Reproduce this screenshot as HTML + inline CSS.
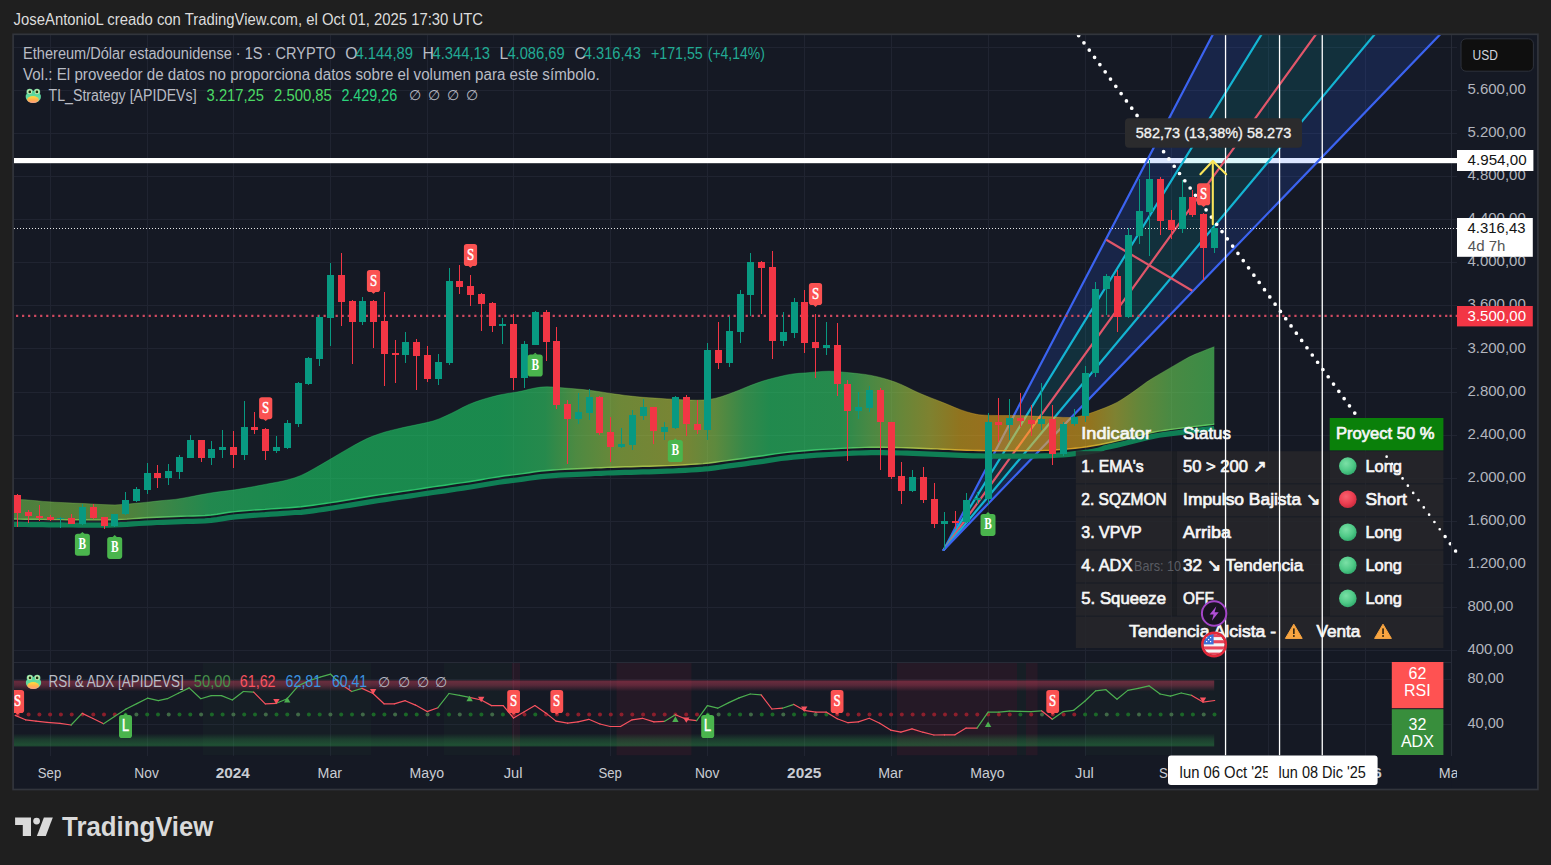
<!DOCTYPE html>
<html><head><meta charset="utf-8"><title>ETHUSD chart</title>
<style>
html,body{margin:0;padding:0;background:#1f1f1f;}
body{width:1551px;height:865px;overflow:hidden;font-family:"Liberation Sans", sans-serif;}
svg{display:block;font-family:"Liberation Sans", sans-serif;}
text{white-space:pre;}
.tb{stroke:#f6f6f6;stroke-width:0.7px;}
.sl{stroke:#ffffff;stroke-width:0.5px;}
</style></head><body>
<svg width="1551" height="865" viewBox="0 0 1551 865">
<defs>
<clipPath id="plot"><rect x="14" y="35" width="1437.5" height="720.5"/></clipPath>
<clipPath id="main"><rect x="14" y="35" width="1437.5" height="627"/></clipPath>
<clipPath id="rsi"><rect x="14" y="662" width="1437.5" height="93.5"/></clipPath>
<clipPath id="diag"><rect x="1451.0" y="35" width="6.5" height="627"/></clipPath>
<clipPath id="taxis"><rect x="14" y="755.5" width="1443" height="33.5"/></clipPath>
<linearGradient id="band" gradientUnits="userSpaceOnUse" x1="13" y1="0" x2="1215" y2="0">
<stop offset="0.0000" stop-color="#73d055"/>
<stop offset="0.0391" stop-color="#86d04a"/>
<stop offset="0.0890" stop-color="#86d04a"/>
<stop offset="0.1223" stop-color="#5fdb60"/>
<stop offset="0.1639" stop-color="#2be070"/>
<stop offset="0.2388" stop-color="#1de26e"/>
<stop offset="0.4052" stop-color="#1fe26e"/>
<stop offset="0.4426" stop-color="#33e26c"/>
<stop offset="0.4676" stop-color="#78e259"/>
<stop offset="0.5050" stop-color="#b3de47"/>
<stop offset="0.5549" stop-color="#c9d940"/>
<stop offset="0.5840" stop-color="#97e252"/>
<stop offset="0.6090" stop-color="#4de067"/>
<stop offset="0.6298" stop-color="#2ae26e"/>
<stop offset="0.6880" stop-color="#33e26c"/>
<stop offset="0.7130" stop-color="#73e05c"/>
<stop offset="0.7379" stop-color="#a5dd4a"/>
<stop offset="0.7629" stop-color="#d1d439"/>
<stop offset="0.7879" stop-color="#f2bb1a"/>
<stop offset="0.8128" stop-color="#ffb419"/>
<stop offset="0.8710" stop-color="#ffb219"/>
<stop offset="0.8960" stop-color="#f5bb1a"/>
<stop offset="0.9168" stop-color="#d1d43c"/>
<stop offset="0.9376" stop-color="#9fdd4c"/>
<stop offset="0.9626" stop-color="#73e25b"/>
<stop offset="1.0000" stop-color="#56e662"/>
</linearGradient>
<linearGradient id="bandline" gradientUnits="userSpaceOnUse" x1="13" y1="0" x2="1215" y2="0">
<stop offset="0.0000" stop-color="#72bf5a"/>
<stop offset="0.0391" stop-color="#82bf51"/>
<stop offset="0.0890" stop-color="#82bf51"/>
<stop offset="0.1223" stop-color="#62c863"/>
<stop offset="0.1639" stop-color="#37cc70"/>
<stop offset="0.2388" stop-color="#2ccd6e"/>
<stop offset="0.4052" stop-color="#2dcd6e"/>
<stop offset="0.4426" stop-color="#3ecd6d"/>
<stop offset="0.4676" stop-color="#76cd5d"/>
<stop offset="0.5050" stop-color="#a7ca4e"/>
<stop offset="0.5549" stop-color="#b9c648"/>
<stop offset="0.5840" stop-color="#90cd57"/>
<stop offset="0.6090" stop-color="#53cc68"/>
<stop offset="0.6298" stop-color="#36cd6e"/>
<stop offset="0.6880" stop-color="#3ecd6d"/>
<stop offset="0.7130" stop-color="#72cc5f"/>
<stop offset="0.7379" stop-color="#9bc951"/>
<stop offset="0.7629" stop-color="#bfc243"/>
<stop offset="0.7879" stop-color="#daad29"/>
<stop offset="0.8128" stop-color="#e5a828"/>
<stop offset="0.8710" stop-color="#e5a628"/>
<stop offset="0.8960" stop-color="#ddad29"/>
<stop offset="0.9168" stop-color="#bfc245"/>
<stop offset="0.9376" stop-color="#96c952"/>
<stop offset="0.9626" stop-color="#72cd5f"/>
<stop offset="1.0000" stop-color="#5bd164"/>
</linearGradient>
<linearGradient id="redband" x1="0" y1="0" x2="0" y2="1">
<stop offset="0" stop-color="#c8405a" stop-opacity="0.30"/><stop offset="0.12" stop-color="#c8405a" stop-opacity="0.46"/><stop offset="0.45" stop-color="#c0405a" stop-opacity="0.38"/><stop offset="1" stop-color="#c0405a" stop-opacity="0"/>
</linearGradient>
<linearGradient id="greenband" x1="0" y1="0" x2="0" y2="1">
<stop offset="0" stop-color="#2f9c4a" stop-opacity="0"/><stop offset="0.45" stop-color="#2f9c4a" stop-opacity="0.26"/><stop offset="0.88" stop-color="#2f9c4a" stop-opacity="0.40"/><stop offset="1" stop-color="#2f9c4a" stop-opacity="0.3"/>
</linearGradient>
<linearGradient id="frog" x1="0" y1="0" x2="0" y2="1">
<stop offset="0" stop-color="#52d39a"/><stop offset="0.6" stop-color="#66dda0"/><stop offset="1" stop-color="#7fe3a0"/>
</linearGradient>
<linearGradient id="frogm" x1="0" y1="0" x2="0" y2="1">
<stop offset="0" stop-color="#ffdc3c"/><stop offset="0.55" stop-color="#ffb04e"/><stop offset="1" stop-color="#ff9a86"/>
</linearGradient>
<radialGradient id="gball" cx="0.4" cy="0.35" r="0.7"><stop offset="0" stop-color="#7be0a6"/><stop offset="0.6" stop-color="#4fc987"/><stop offset="1" stop-color="#2ea86a"/></radialGradient>
<radialGradient id="rball" cx="0.4" cy="0.35" r="0.7"><stop offset="0" stop-color="#f8626f"/><stop offset="0.6" stop-color="#ec3d50"/><stop offset="1" stop-color="#c72a3c"/></radialGradient>
<g id="frogicon">
<circle cx="4.1" cy="3.3" r="3.2" fill="#7fe0a4"/><circle cx="11.4" cy="3.3" r="3.2" fill="#7fe0a4"/>
<ellipse cx="7.7" cy="8.3" rx="7.6" ry="6.2" fill="url(#frog)"/>
<circle cx="4.1" cy="3.2" r="2.4" fill="#d3eeb4"/><circle cx="11.4" cy="3.2" r="2.4" fill="#d3eeb4"/>
<circle cx="4.2" cy="3.3" r="1.35" fill="#1c3a12"/><circle cx="11.3" cy="3.3" r="1.35" fill="#1c3a12"/>
<ellipse cx="7.4" cy="11" rx="5.9" ry="3.5" fill="url(#frogm)"/>
</g>
<g id="warn">
<path d="M8.8 0.8 L17.2 15 L0.4 15 Z" fill="#f9a541" stroke="#f9a541" stroke-width="1" stroke-linejoin="round"/>
<rect x="8" y="5" width="1.7" height="5.6" fill="#3a2a14"/><rect x="8" y="11.7" width="1.7" height="1.8" fill="#3a2a14"/>
</g>
</defs>

<text x="13.6" y="25.3" font-size="15.6" fill="#dcdcdc" textLength="469.5" lengthAdjust="spacingAndGlyphs" >JoseAntonioL creado con TradingView.com, el Oct 01, 2025 17:30 UTC</text>
<rect x="13" y="34" width="1525" height="755" fill="#151924"/>
<g stroke="#202431" stroke-width="1" shape-rendering="crispEdges">
<line x1="50.5" y1="35" x2="50.5" y2="755.5"/>
<line x1="147.5" y1="35" x2="147.5" y2="755.5"/>
<line x1="233.5" y1="35" x2="233.5" y2="755.5"/>
<line x1="330.5" y1="35" x2="330.5" y2="755.5"/>
<line x1="427.5" y1="35" x2="427.5" y2="755.5"/>
<line x1="513.5" y1="35" x2="513.5" y2="755.5"/>
<line x1="610.5" y1="35" x2="610.5" y2="755.5"/>
<line x1="707.5" y1="35" x2="707.5" y2="755.5"/>
<line x1="804.5" y1="35" x2="804.5" y2="755.5"/>
<line x1="891.5" y1="35" x2="891.5" y2="755.5"/>
<line x1="988.5" y1="35" x2="988.5" y2="755.5"/>
<line x1="1085.5" y1="35" x2="1085.5" y2="755.5"/>
<line x1="1171.5" y1="35" x2="1171.5" y2="755.5"/>
<line x1="1268.5" y1="35" x2="1268.5" y2="755.5"/>
<line x1="1365.5" y1="35" x2="1365.5" y2="755.5"/>
<line x1="14" y1="47.5" x2="1456.5" y2="47.5"/>
<line x1="14" y1="90.5" x2="1456.5" y2="90.5"/>
<line x1="14" y1="133.5" x2="1456.5" y2="133.5"/>
<line x1="14" y1="176.5" x2="1456.5" y2="176.5"/>
<line x1="14" y1="219.5" x2="1456.5" y2="219.5"/>
<line x1="14" y1="262.5" x2="1456.5" y2="262.5"/>
<line x1="14" y1="305.5" x2="1456.5" y2="305.5"/>
<line x1="14" y1="348.5" x2="1456.5" y2="348.5"/>
<line x1="14" y1="392.5" x2="1456.5" y2="392.5"/>
<line x1="14" y1="435.5" x2="1456.5" y2="435.5"/>
<line x1="14" y1="478.5" x2="1456.5" y2="478.5"/>
<line x1="14" y1="521.5" x2="1456.5" y2="521.5"/>
<line x1="14" y1="564.5" x2="1456.5" y2="564.5"/>
<line x1="14" y1="607.5" x2="1456.5" y2="607.5"/>
<line x1="14" y1="650.5" x2="1456.5" y2="650.5"/>
<line x1="14" y1="679.5" x2="1456.5" y2="679.5"/>
<line x1="14" y1="724.5" x2="1456.5" y2="724.5"/>
</g>
<g clip-path="url(#main)">
<rect x="14" y="158" width="1443" height="5.2" fill="#ffffff"/>
</g>
<g clip-path="url(#main)">
<polygon points="943.7,549.9 1220.4,20.0 1270.4,20.0" fill="rgba(41,98,255,0.17)"/>
<polygon points="943.7,549.9 1270.4,20.0 1386.7,20.0" fill="rgba(0,188,212,0.14)"/>
<polygon points="943.7,549.9 1386.7,20.0 1454.0,20.0" fill="rgba(41,98,255,0.17)"/>
<line x1="943.7" y1="549.9" x2="1220.4" y2="20.0" stroke="#3b63f0" stroke-width="2.2" stroke-linecap="round"/>
<line x1="943.7" y1="549.9" x2="1270.4" y2="20.0" stroke="#14b4d2" stroke-width="2.2" stroke-linecap="round"/>
<line x1="943.7" y1="549.9" x2="1326.3" y2="20.0" stroke="#e0566a" stroke-width="2.2" stroke-linecap="round"/>
<line x1="943.7" y1="549.9" x2="1386.7" y2="20.0" stroke="#14b4d2" stroke-width="2.2" stroke-linecap="round"/>
<line x1="943.7" y1="549.9" x2="1454.0" y2="20.0" stroke="#3b63f0" stroke-width="2.2" stroke-linecap="round"/>
<line x1="1106.3" y1="239.8" x2="1192.3" y2="290.7" stroke="#e0566a" stroke-width="2.2"/>
</g>
<g clip-path="url(#main)">
<polygon points="13.0,499.9 19.0,499.6 25.0,499.8 31.0,500.3 37.0,500.8 43.0,501.4 49.0,501.8 55.0,502.2 61.0,502.5 67.0,502.8 73.0,503.1 79.0,503.3 85.0,503.6 91.0,503.9 97.0,504.3 103.0,504.6 109.0,504.8 115.0,504.9 121.0,504.6 127.0,504.2 133.0,503.6 139.0,503.0 145.0,502.4 151.0,501.8 157.0,501.1 163.0,500.5 169.0,499.9 175.0,499.4 181.0,498.5 187.0,497.4 193.0,496.3 199.0,495.1 205.0,494.0 211.0,492.9 217.0,492.1 223.0,491.3 229.0,490.6 235.0,489.8 241.0,488.8 247.0,487.8 253.0,486.7 259.0,485.6 265.0,484.4 271.0,483.3 277.0,482.2 283.0,481.0 289.0,479.5 295.0,477.7 301.0,475.4 307.0,472.6 313.0,469.2 319.0,465.8 325.0,462.3 331.0,458.8 337.0,455.2 343.0,451.7 349.0,448.2 355.0,444.8 361.0,441.6 367.0,438.6 373.0,436.1 379.0,433.9 385.0,432.0 391.0,430.4 397.0,429.0 403.0,427.6 409.0,426.3 415.0,425.1 421.0,423.8 427.0,422.5 433.0,421.0 439.0,418.9 445.0,416.3 451.0,413.5 457.0,410.5 463.0,407.3 469.0,404.4 475.0,402.1 481.0,400.0 487.0,398.2 493.0,396.6 499.0,395.1 505.0,393.9 511.0,392.9 517.0,392.0 523.0,390.8 529.0,389.3 535.0,388.0 541.0,387.1 547.0,386.8 553.0,387.0 559.0,387.5 565.0,388.0 571.0,388.5 577.0,389.0 583.0,389.6 589.0,390.2 595.0,391.0 601.0,391.9 607.0,392.9 613.0,393.8 619.0,394.6 625.0,395.4 631.0,396.1 637.0,396.7 643.0,397.3 649.0,397.7 655.0,398.1 661.0,398.5 667.0,398.9 673.0,399.2 679.0,399.6 685.0,399.9 691.0,400.1 697.0,400.2 703.0,400.0 709.0,399.4 715.0,398.4 721.0,396.8 727.0,394.7 733.0,392.5 739.0,390.2 745.0,387.7 751.0,385.3 757.0,383.1 763.0,381.0 769.0,379.3 775.0,377.7 781.0,376.3 787.0,374.9 793.0,373.9 799.0,373.3 805.0,372.9 811.0,372.4 817.0,371.9 823.0,371.4 829.0,371.2 835.0,371.4 841.0,371.9 847.0,372.5 853.0,373.1 859.0,373.7 865.0,374.4 871.0,375.4 877.0,376.7 883.0,378.2 889.0,380.0 895.0,382.0 901.0,384.4 907.0,387.2 913.0,390.2 919.0,393.0 925.0,395.5 931.0,397.9 937.0,400.2 943.0,402.6 949.0,405.0 955.0,407.6 961.0,409.9 967.0,411.9 973.0,413.6 979.0,414.8 985.0,415.2 991.0,415.4 997.0,415.5 1003.0,415.5 1009.0,415.5 1015.0,415.5 1021.0,415.6 1027.0,415.8 1033.0,416.1 1039.0,416.3 1045.0,416.6 1051.0,416.8 1057.0,417.1 1063.0,417.4 1069.0,417.5 1075.0,417.2 1081.0,416.0 1087.0,414.3 1093.0,412.3 1099.0,410.1 1105.0,407.8 1111.0,405.3 1117.0,402.4 1123.0,398.8 1129.0,394.8 1135.0,390.6 1141.0,386.2 1147.0,381.8 1153.0,378.0 1159.0,374.4 1165.0,370.9 1171.0,367.4 1177.0,363.9 1183.0,360.4 1189.0,357.1 1195.0,354.3 1201.0,351.9 1207.0,349.5 1213.0,347.2 1214.3,346.7 1214.3,424.1 1213.0,424.3 1207.0,425.0 1201.0,425.7 1195.0,426.4 1189.0,427.1 1183.0,427.9 1177.0,428.6 1171.0,429.4 1165.0,430.2 1159.0,431.1 1153.0,432.2 1147.0,433.5 1141.0,435.0 1135.0,436.5 1129.0,438.0 1123.0,439.5 1117.0,440.9 1111.0,442.2 1105.0,443.5 1099.0,444.7 1093.0,445.8 1087.0,446.8 1081.0,447.6 1075.0,448.3 1069.0,448.9 1063.0,449.4 1057.0,449.8 1051.0,450.2 1045.0,450.4 1039.0,450.6 1033.0,450.7 1027.0,450.8 1021.0,450.8 1015.0,450.8 1009.0,450.8 1003.0,450.8 997.0,450.8 991.0,450.7 985.0,450.6 979.0,450.5 973.0,450.4 967.0,450.2 961.0,450.0 955.0,449.7 949.0,449.4 943.0,449.2 937.0,448.9 931.0,448.7 925.0,448.5 919.0,448.2 913.0,448.0 907.0,447.8 901.0,447.6 895.0,447.5 889.0,447.4 883.0,447.3 877.0,447.2 871.0,447.3 865.0,447.4 859.0,447.6 853.0,447.8 847.0,448.1 841.0,448.4 835.0,448.7 829.0,449.1 823.0,449.4 817.0,449.8 811.0,450.3 805.0,450.7 799.0,451.2 793.0,451.8 787.0,452.4 781.0,453.1 775.0,453.9 769.0,454.8 763.0,455.7 757.0,456.5 751.0,457.3 745.0,458.2 739.0,459.0 733.0,459.8 727.0,460.6 721.0,461.4 715.0,462.2 709.0,463.0 703.0,463.6 697.0,464.0 691.0,464.4 685.0,464.8 679.0,465.1 673.0,465.4 667.0,465.6 661.0,465.8 655.0,466.0 649.0,466.2 643.0,466.3 637.0,466.5 631.0,466.7 625.0,466.8 619.0,467.0 613.0,467.2 607.0,467.4 601.0,467.7 595.0,467.9 589.0,468.2 583.0,468.5 577.0,468.7 571.0,469.0 565.0,469.3 559.0,469.6 553.0,470.0 547.0,470.5 541.0,471.0 535.0,471.8 529.0,472.7 523.0,473.6 517.0,474.4 511.0,475.1 505.0,475.8 499.0,476.7 493.0,477.6 487.0,478.6 481.0,479.7 475.0,480.7 469.0,481.7 463.0,482.6 457.0,483.4 451.0,484.3 445.0,485.2 439.0,486.0 433.0,486.9 427.0,487.8 421.0,488.7 415.0,489.6 409.0,490.5 403.0,491.4 397.0,492.2 391.0,493.1 385.0,494.0 379.0,494.9 373.0,495.8 367.0,496.8 361.0,497.8 355.0,498.8 349.0,499.8 343.0,500.7 337.0,501.7 331.0,502.6 325.0,503.5 319.0,504.4 313.0,505.2 307.0,506.0 301.0,506.7 295.0,507.2 289.0,507.7 283.0,508.1 277.0,508.5 271.0,508.9 265.0,509.4 259.0,509.7 253.0,510.1 247.0,510.6 241.0,511.0 235.0,511.6 229.0,512.3 223.0,513.3 217.0,514.3 211.0,515.0 205.0,515.5 199.0,515.8 193.0,516.0 187.0,516.1 181.0,516.3 175.0,516.5 169.0,516.8 163.0,517.0 157.0,517.2 151.0,517.5 145.0,517.8 139.0,518.2 133.0,518.6 127.0,519.1 121.0,519.4 115.0,519.7 109.0,519.8 103.0,519.9 97.0,519.9 91.0,519.9 85.0,519.8 79.0,519.8 73.0,519.7 67.0,519.7 61.0,519.6 55.0,519.6 49.0,519.5 43.0,519.4 37.0,519.3 31.0,519.3 25.0,519.2 19.0,519.1 13.0,519.0" fill="url(#band)" opacity="0.56"/>
<polyline points="13.0,524.3 19.0,524.4 25.0,524.5 31.0,524.6 37.0,524.6 43.0,524.7 49.0,524.8 55.0,524.9 61.0,524.9 67.0,525.0 73.0,525.0 79.0,525.1 85.0,525.1 91.0,525.2 97.0,525.2 103.0,525.2 109.0,525.1 115.0,525.0 121.0,524.7 127.0,524.4 133.0,523.9 139.0,523.5 145.0,523.1 151.0,522.8 157.0,522.5 163.0,522.3 169.0,522.1 175.0,521.8 181.0,521.6 187.0,521.4 193.0,521.3 199.0,521.1 205.0,520.8 211.0,520.3 217.0,519.6 223.0,518.6 229.0,517.6 235.0,516.9 241.0,516.3 247.0,515.9 253.0,515.4 259.0,515.0 265.0,514.7 271.0,514.2 277.0,513.8 283.0,513.4 289.0,513.0 295.0,512.5 301.0,512.3 307.0,511.6 313.0,510.8 319.0,510.0 325.0,509.1 331.0,508.2 337.0,507.3 343.0,506.3 349.0,505.4 355.0,504.4 361.0,503.4 367.0,502.4 373.0,501.4 379.0,500.5 385.0,499.6 391.0,498.7 397.0,497.8 403.0,497.0 409.0,496.1 415.0,495.2 421.0,494.3 427.0,493.4 433.0,492.5 439.0,491.6 445.0,490.8 451.0,489.9 457.0,489.0 463.0,488.2 469.0,487.3 475.0,486.3 481.0,485.3 487.0,484.2 493.0,483.2 499.0,482.3 505.0,481.4 511.0,480.7 517.0,480.0 523.0,479.2 529.0,478.3 535.0,477.4 541.0,476.6 547.0,476.1 553.0,475.6 559.0,475.2 565.0,474.9 571.0,474.6 577.0,474.3 583.0,474.1 589.0,473.8 595.0,473.5 601.0,473.3 607.0,473.0 613.0,472.8 619.0,472.6 625.0,472.4 631.0,472.3 637.0,472.1 643.0,471.9 649.0,471.8 655.0,471.6 661.0,471.4 667.0,471.2 673.0,471.0 679.0,470.7 685.0,470.4 691.0,470.0 697.0,469.6 703.0,469.2 709.0,468.6 715.0,467.8 721.0,467.0 727.0,466.2 733.0,465.4 739.0,464.6 745.0,463.8 751.0,462.9 757.0,462.1 763.0,461.3 769.0,460.4 775.0,459.5 781.0,458.5 787.0,457.8 793.0,457.2 799.0,456.6 805.0,456.1 811.0,455.7 817.0,455.2 823.0,454.8 829.0,454.5 835.0,454.1 841.0,453.8 847.0,453.5 853.0,453.2 859.0,453.0 865.0,452.8 871.0,452.7 877.0,452.6 883.0,452.7 889.0,452.8 895.0,452.9 901.0,453.0 907.0,453.2 913.0,453.4 919.0,453.6 925.0,453.9 931.0,454.1 937.0,454.3 943.0,454.6 949.0,454.8 955.0,455.1 961.0,455.4 967.0,455.6 973.0,455.8 979.0,455.9 985.0,456.0 991.0,456.1 997.0,456.2 1003.0,456.2 1009.0,456.2 1015.0,456.2 1021.0,456.2 1027.0,456.2 1033.0,456.1 1039.0,456.0 1045.0,455.8 1051.0,455.6 1057.0,455.2 1063.0,454.8 1069.0,454.3 1075.0,453.7 1081.0,453.0 1087.0,452.2 1093.0,451.2 1099.0,450.1 1105.0,447.7 1111.0,446.4 1117.0,445.1 1123.0,443.7 1129.0,442.2 1135.0,440.7 1141.0,439.2 1147.0,437.7 1153.0,436.4 1159.0,435.3 1165.0,434.4 1171.0,433.6 1177.0,432.8 1183.0,432.1 1189.0,431.3 1195.0,430.6 1201.0,429.9 1207.0,429.2 1213.0,428.5 1214.3,428.3" fill="none" stroke="#0f7f55" stroke-width="5.2" stroke-linejoin="round"/>
<polyline points="13.0,519.0 19.0,519.1 25.0,519.2 31.0,519.3 37.0,519.3 43.0,519.4 49.0,519.5 55.0,519.6 61.0,519.6 67.0,519.7 73.0,519.7 79.0,519.8 85.0,519.8 91.0,519.9 97.0,519.9 103.0,519.9 109.0,519.8 115.0,519.7 121.0,519.4 127.0,519.1 133.0,518.6 139.0,518.2 145.0,517.8 151.0,517.5 157.0,517.2 163.0,517.0 169.0,516.8 175.0,516.5 181.0,516.3 187.0,516.1 193.0,516.0 199.0,515.8 205.0,515.5 211.0,515.0 217.0,514.3 223.0,513.3 229.0,512.3 235.0,511.6 241.0,511.0 247.0,510.6 253.0,510.1 259.0,509.7 265.0,509.4 271.0,508.9 277.0,508.5 283.0,508.1 289.0,507.7 295.0,507.2 301.0,506.7 307.0,506.0 313.0,505.2 319.0,504.4 325.0,503.5 331.0,502.6 337.0,501.7 343.0,500.7 349.0,499.8 355.0,498.8 361.0,497.8 367.0,496.8 373.0,495.8 379.0,494.9 385.0,494.0 391.0,493.1 397.0,492.2 403.0,491.4 409.0,490.5 415.0,489.6 421.0,488.7 427.0,487.8 433.0,486.9 439.0,486.0 445.0,485.2 451.0,484.3 457.0,483.4 463.0,482.6 469.0,481.7 475.0,480.7 481.0,479.7 487.0,478.6 493.0,477.6 499.0,476.7 505.0,475.8 511.0,475.1 517.0,474.4 523.0,473.6 529.0,472.7 535.0,471.8 541.0,471.0 547.0,470.5 553.0,470.0 559.0,469.6 565.0,469.3 571.0,469.0 577.0,468.7 583.0,468.5 589.0,468.2 595.0,467.9 601.0,467.7 607.0,467.4 613.0,467.2 619.0,467.0 625.0,466.8 631.0,466.7 637.0,466.5 643.0,466.3 649.0,466.2 655.0,466.0 661.0,465.8 667.0,465.6 673.0,465.4 679.0,465.1 685.0,464.8 691.0,464.4 697.0,464.0 703.0,463.6 709.0,463.0 715.0,462.2 721.0,461.4 727.0,460.6 733.0,459.8 739.0,459.0 745.0,458.2 751.0,457.3 757.0,456.5 763.0,455.7 769.0,454.8 775.0,453.9 781.0,453.1 787.0,452.4 793.0,451.8 799.0,451.2 805.0,450.7 811.0,450.3 817.0,449.8 823.0,449.4 829.0,449.1 835.0,448.7 841.0,448.4 847.0,448.1 853.0,447.8 859.0,447.6 865.0,447.4 871.0,447.3 877.0,447.2 883.0,447.3 889.0,447.4 895.0,447.5 901.0,447.6 907.0,447.8 913.0,448.0 919.0,448.2 925.0,448.5 931.0,448.7 937.0,448.9 943.0,449.2 949.0,449.4 955.0,449.7 961.0,450.0 967.0,450.2 973.0,450.4 979.0,450.5 985.0,450.6 991.0,450.7 997.0,450.8 1003.0,450.8 1009.0,450.8 1015.0,450.8 1021.0,450.8 1027.0,450.8 1033.0,450.7 1039.0,450.6 1045.0,450.4 1051.0,450.2 1057.0,449.8 1063.0,449.4 1069.0,448.9 1075.0,448.3 1081.0,447.6 1087.0,446.8 1093.0,445.8 1099.0,444.7 1105.0,443.5 1111.0,442.2 1117.0,440.9 1123.0,439.5 1129.0,438.0 1135.0,436.5 1141.0,435.0 1147.0,433.5 1153.0,432.2 1159.0,431.1 1165.0,430.2 1171.0,429.4 1177.0,428.6 1183.0,427.9 1189.0,427.1 1195.0,426.4 1201.0,425.7 1207.0,425.0 1213.0,424.3 1214.3,424.1" fill="none" stroke="url(#bandline)" stroke-width="1.4" stroke-linejoin="round" opacity="0.9"/>
<polyline points="13.0,499.9 19.0,499.6 25.0,499.8 31.0,500.3 37.0,500.8 43.0,501.4 49.0,501.8 55.0,502.2 61.0,502.5 67.0,502.8 73.0,503.1 79.0,503.3 85.0,503.6 91.0,503.9 97.0,504.3 103.0,504.6 109.0,504.8 115.0,504.9 121.0,504.6 127.0,504.2 133.0,503.6 139.0,503.0 145.0,502.4 151.0,501.8 157.0,501.1 163.0,500.5 169.0,499.9 175.0,499.4 181.0,498.5 187.0,497.4 193.0,496.3 199.0,495.1 205.0,494.0 211.0,492.9 217.0,492.1 223.0,491.3 229.0,490.6 235.0,489.8 241.0,488.8 247.0,487.8 253.0,486.7 259.0,485.6 265.0,484.4 271.0,483.3 277.0,482.2 283.0,481.0 289.0,479.5 295.0,477.7 301.0,475.4 307.0,472.6 313.0,469.2 319.0,465.8 325.0,462.3 331.0,458.8 337.0,455.2 343.0,451.7 349.0,448.2 355.0,444.8 361.0,441.6 367.0,438.6 373.0,436.1 379.0,433.9 385.0,432.0 391.0,430.4 397.0,429.0 403.0,427.6 409.0,426.3 415.0,425.1 421.0,423.8 427.0,422.5 433.0,421.0 439.0,418.9 445.0,416.3 451.0,413.5 457.0,410.5 463.0,407.3 469.0,404.4 475.0,402.1 481.0,400.0 487.0,398.2 493.0,396.6 499.0,395.1 505.0,393.9 511.0,392.9 517.0,392.0 523.0,390.8 529.0,389.3 535.0,388.0 541.0,387.1 547.0,386.8 553.0,387.0 559.0,387.5 565.0,388.0 571.0,388.5 577.0,389.0 583.0,389.6 589.0,390.2 595.0,391.0 601.0,391.9 607.0,392.9 613.0,393.8 619.0,394.6 625.0,395.4 631.0,396.1 637.0,396.7 643.0,397.3 649.0,397.7 655.0,398.1 661.0,398.5 667.0,398.9 673.0,399.2 679.0,399.6 685.0,399.9 691.0,400.1 697.0,400.2 703.0,400.0 709.0,399.4 715.0,398.4 721.0,396.8 727.0,394.7 733.0,392.5 739.0,390.2 745.0,387.7 751.0,385.3 757.0,383.1 763.0,381.0 769.0,379.3 775.0,377.7 781.0,376.3 787.0,374.9 793.0,373.9 799.0,373.3 805.0,372.9 811.0,372.4 817.0,371.9 823.0,371.4 829.0,371.2 835.0,371.4 841.0,371.9 847.0,372.5 853.0,373.1 859.0,373.7 865.0,374.4 871.0,375.4 877.0,376.7 883.0,378.2 889.0,380.0 895.0,382.0 901.0,384.4 907.0,387.2 913.0,390.2 919.0,393.0 925.0,395.5 931.0,397.9 937.0,400.2 943.0,402.6 949.0,405.0 955.0,407.6 961.0,409.9 967.0,411.9 973.0,413.6 979.0,414.8 985.0,415.2 991.0,415.4 997.0,415.5 1003.0,415.5 1009.0,415.5 1015.0,415.5 1021.0,415.6 1027.0,415.8 1033.0,416.1 1039.0,416.3 1045.0,416.6 1051.0,416.8 1057.0,417.1 1063.0,417.4 1069.0,417.5 1075.0,417.2 1081.0,416.0 1087.0,414.3 1093.0,412.3 1099.0,410.1 1105.0,407.8 1111.0,405.3 1117.0,402.4 1123.0,398.8 1129.0,394.8 1135.0,390.6 1141.0,386.2 1147.0,381.8 1153.0,378.0 1159.0,374.4 1165.0,370.9 1171.0,367.4 1177.0,363.9 1183.0,360.4 1189.0,357.1 1195.0,354.3 1201.0,351.9 1207.0,349.5 1213.0,347.2 1214.3,346.7" fill="none" stroke="url(#bandline)" stroke-width="1" stroke-linejoin="round" opacity="0.35"/>
</g>
<g clip-path="url(#main)">
<line x1="14" y1="228.5" x2="1457" y2="228.5" stroke="#e8e8e8" stroke-width="1" stroke-dasharray="1 2"/>
<line x1="16" y1="315.9" x2="1457" y2="315.9" stroke="#cf4a60" stroke-width="2.2" stroke-dasharray="2.2 3.83"/>
</g>
<g clip-path="url(#main)" shape-rendering="crispEdges">
<rect x="17" y="494" width="1" height="33" fill="#f23645"/><rect x="14" y="495" width="7" height="18" fill="#f23645"/>
<rect x="28" y="510" width="1" height="13" fill="#f23645"/><rect x="25" y="512" width="7" height="4" fill="#f23645"/>
<rect x="39" y="505" width="1" height="16" fill="#f23645"/><rect x="36" y="516" width="7" height="2" fill="#f23645"/>
<rect x="50" y="515" width="1" height="6" fill="#f23645"/><rect x="47" y="517" width="7" height="3" fill="#f23645"/>
<rect x="60" y="517" width="1" height="11" fill="#089981"/><rect x="57" y="518" width="7" height="1" fill="#089981"/>
<rect x="71" y="514" width="1" height="10" fill="#f23645"/><rect x="68" y="518" width="7" height="6" fill="#f23645"/>
<rect x="82" y="504" width="1" height="21" fill="#089981"/><rect x="79" y="507" width="7" height="17" fill="#089981"/>
<rect x="93" y="504" width="1" height="15" fill="#f23645"/><rect x="90" y="507" width="7" height="11" fill="#f23645"/>
<rect x="104" y="517" width="1" height="12" fill="#f23645"/><rect x="101" y="517" width="7" height="9" fill="#f23645"/>
<rect x="114" y="514" width="1" height="13" fill="#089981"/><rect x="111" y="514" width="7" height="12" fill="#089981"/>
<rect x="125" y="492" width="1" height="23" fill="#089981"/><rect x="122" y="500" width="7" height="14" fill="#089981"/>
<rect x="136" y="487" width="1" height="15" fill="#089981"/><rect x="133" y="489" width="7" height="12" fill="#089981"/>
<rect x="147" y="463" width="1" height="31" fill="#089981"/><rect x="144" y="473" width="7" height="17" fill="#089981"/>
<rect x="157" y="465" width="1" height="23" fill="#f23645"/><rect x="154" y="473" width="7" height="5" fill="#f23645"/>
<rect x="168" y="464" width="1" height="21" fill="#089981"/><rect x="165" y="471" width="7" height="7" fill="#089981"/>
<rect x="179" y="455" width="1" height="24" fill="#089981"/><rect x="176" y="457" width="7" height="15" fill="#089981"/>
<rect x="190" y="435" width="1" height="23" fill="#089981"/><rect x="187" y="440" width="7" height="18" fill="#089981"/>
<rect x="201" y="440" width="1" height="22" fill="#f23645"/><rect x="198" y="440" width="7" height="18" fill="#f23645"/>
<rect x="211" y="441" width="1" height="24" fill="#089981"/><rect x="208" y="449" width="7" height="9" fill="#089981"/>
<rect x="222" y="430" width="1" height="28" fill="#089981"/><rect x="219" y="447" width="7" height="3" fill="#089981"/>
<rect x="233" y="431" width="1" height="37" fill="#f23645"/><rect x="230" y="447" width="7" height="8" fill="#f23645"/>
<rect x="244" y="401" width="1" height="59" fill="#089981"/><rect x="241" y="427" width="7" height="28" fill="#089981"/>
<rect x="254" y="412" width="1" height="22" fill="#f23645"/><rect x="251" y="427" width="7" height="3" fill="#f23645"/>
<rect x="265" y="428" width="1" height="32" fill="#f23645"/><rect x="262" y="429" width="7" height="22" fill="#f23645"/>
<rect x="276" y="436" width="1" height="17" fill="#089981"/><rect x="273" y="447" width="7" height="4" fill="#089981"/>
<rect x="287" y="420" width="1" height="29" fill="#089981"/><rect x="284" y="423" width="7" height="25" fill="#089981"/>
<rect x="298" y="382" width="1" height="45" fill="#089981"/><rect x="295" y="383" width="7" height="41" fill="#089981"/>
<rect x="308" y="357" width="1" height="28" fill="#089981"/><rect x="305" y="358" width="7" height="26" fill="#089981"/>
<rect x="319" y="315" width="1" height="51" fill="#089981"/><rect x="316" y="317" width="7" height="42" fill="#089981"/>
<rect x="330" y="263" width="1" height="83" fill="#089981"/><rect x="327" y="275" width="7" height="43" fill="#089981"/>
<rect x="341" y="253" width="1" height="73" fill="#f23645"/><rect x="338" y="275" width="7" height="27" fill="#f23645"/>
<rect x="352" y="300" width="1" height="64" fill="#f23645"/><rect x="349" y="301" width="7" height="21" fill="#f23645"/>
<rect x="362" y="297" width="1" height="28" fill="#089981"/><rect x="359" y="301" width="7" height="21" fill="#089981"/>
<rect x="373" y="300" width="1" height="48" fill="#f23645"/><rect x="370" y="301" width="7" height="21" fill="#f23645"/>
<rect x="384" y="292" width="1" height="94" fill="#f23645"/><rect x="381" y="321" width="7" height="33" fill="#f23645"/>
<rect x="395" y="340" width="1" height="43" fill="#f23645"/><rect x="392" y="353" width="7" height="2" fill="#f23645"/>
<rect x="405" y="332" width="1" height="31" fill="#089981"/><rect x="402" y="342" width="7" height="13" fill="#089981"/>
<rect x="416" y="339" width="1" height="51" fill="#f23645"/><rect x="413" y="342" width="7" height="14" fill="#f23645"/>
<rect x="427" y="346" width="1" height="36" fill="#f23645"/><rect x="424" y="355" width="7" height="24" fill="#f23645"/>
<rect x="438" y="354" width="1" height="31" fill="#089981"/><rect x="435" y="362" width="7" height="17" fill="#089981"/>
<rect x="449" y="268" width="1" height="97" fill="#089981"/><rect x="446" y="281" width="7" height="82" fill="#089981"/>
<rect x="459" y="265" width="1" height="29" fill="#f23645"/><rect x="456" y="281" width="7" height="6" fill="#f23645"/>
<rect x="470" y="275" width="1" height="31" fill="#f23645"/><rect x="467" y="286" width="7" height="9" fill="#f23645"/>
<rect x="481" y="293" width="1" height="38" fill="#f23645"/><rect x="478" y="294" width="7" height="10" fill="#f23645"/>
<rect x="492" y="302" width="1" height="30" fill="#f23645"/><rect x="489" y="303" width="7" height="23" fill="#f23645"/>
<rect x="502" y="318" width="1" height="26" fill="#089981"/><rect x="499" y="324" width="7" height="2" fill="#089981"/>
<rect x="513" y="314" width="1" height="76" fill="#f23645"/><rect x="510" y="324" width="7" height="54" fill="#f23645"/>
<rect x="524" y="341" width="1" height="47" fill="#089981"/><rect x="521" y="344" width="7" height="34" fill="#089981"/>
<rect x="535" y="311" width="1" height="34" fill="#089981"/><rect x="532" y="312" width="7" height="33" fill="#089981"/>
<rect x="546" y="310" width="1" height="51" fill="#f23645"/><rect x="543" y="312" width="7" height="30" fill="#f23645"/>
<rect x="556" y="327" width="1" height="82" fill="#f23645"/><rect x="553" y="341" width="7" height="64" fill="#f23645"/>
<rect x="567" y="400" width="1" height="64" fill="#f23645"/><rect x="564" y="404" width="7" height="15" fill="#f23645"/>
<rect x="578" y="393" width="1" height="31" fill="#089981"/><rect x="575" y="412" width="7" height="7" fill="#089981"/>
<rect x="589" y="389" width="1" height="31" fill="#089981"/><rect x="586" y="397" width="7" height="16" fill="#089981"/>
<rect x="599" y="396" width="1" height="39" fill="#f23645"/><rect x="596" y="397" width="7" height="36" fill="#f23645"/>
<rect x="610" y="417" width="1" height="45" fill="#f23645"/><rect x="607" y="432" width="7" height="15" fill="#f23645"/>
<rect x="621" y="428" width="1" height="20" fill="#089981"/><rect x="618" y="444" width="7" height="3" fill="#089981"/>
<rect x="632" y="410" width="1" height="40" fill="#089981"/><rect x="629" y="415" width="7" height="30" fill="#089981"/>
<rect x="643" y="399" width="1" height="21" fill="#089981"/><rect x="640" y="407" width="7" height="9" fill="#089981"/>
<rect x="653" y="407" width="1" height="37" fill="#f23645"/><rect x="650" y="407" width="7" height="24" fill="#f23645"/>
<rect x="664" y="422" width="1" height="18" fill="#089981"/><rect x="661" y="427" width="7" height="5" fill="#089981"/>
<rect x="675" y="396" width="1" height="33" fill="#089981"/><rect x="672" y="397" width="7" height="31" fill="#089981"/>
<rect x="686" y="395" width="1" height="41" fill="#f23645"/><rect x="683" y="397" width="7" height="27" fill="#f23645"/>
<rect x="697" y="400" width="1" height="34" fill="#f23645"/><rect x="694" y="424" width="7" height="6" fill="#f23645"/>
<rect x="707" y="343" width="1" height="97" fill="#089981"/><rect x="704" y="350" width="7" height="80" fill="#089981"/>
<rect x="718" y="322" width="1" height="47" fill="#f23645"/><rect x="715" y="350" width="7" height="13" fill="#f23645"/>
<rect x="729" y="316" width="1" height="51" fill="#089981"/><rect x="726" y="331" width="7" height="32" fill="#089981"/>
<rect x="740" y="290" width="1" height="53" fill="#089981"/><rect x="737" y="294" width="7" height="38" fill="#089981"/>
<rect x="750" y="253" width="1" height="63" fill="#089981"/><rect x="747" y="262" width="7" height="33" fill="#089981"/>
<rect x="761" y="261" width="1" height="53" fill="#f23645"/><rect x="758" y="262" width="7" height="6" fill="#f23645"/>
<rect x="772" y="251" width="1" height="108" fill="#f23645"/><rect x="769" y="267" width="7" height="74" fill="#f23645"/>
<rect x="783" y="312" width="1" height="34" fill="#089981"/><rect x="780" y="332" width="7" height="9" fill="#089981"/>
<rect x="794" y="298" width="1" height="40" fill="#089981"/><rect x="791" y="302" width="7" height="31" fill="#089981"/>
<rect x="804" y="290" width="1" height="63" fill="#f23645"/><rect x="801" y="302" width="7" height="41" fill="#f23645"/>
<rect x="815" y="314" width="1" height="64" fill="#f23645"/><rect x="812" y="342" width="7" height="6" fill="#f23645"/>
<rect x="826" y="322" width="1" height="33" fill="#089981"/><rect x="823" y="345" width="7" height="3" fill="#089981"/>
<rect x="837" y="323" width="1" height="73" fill="#f23645"/><rect x="834" y="345" width="7" height="39" fill="#f23645"/>
<rect x="847" y="380" width="1" height="81" fill="#f23645"/><rect x="844" y="384" width="7" height="27" fill="#f23645"/>
<rect x="858" y="392" width="1" height="27" fill="#089981"/><rect x="855" y="407" width="7" height="4" fill="#089981"/>
<rect x="869" y="386" width="1" height="26" fill="#089981"/><rect x="866" y="390" width="7" height="18" fill="#089981"/>
<rect x="880" y="388" width="1" height="82" fill="#f23645"/><rect x="877" y="390" width="7" height="32" fill="#f23645"/>
<rect x="891" y="422" width="1" height="57" fill="#f23645"/><rect x="888" y="422" width="7" height="55" fill="#f23645"/>
<rect x="901" y="462" width="1" height="42" fill="#f23645"/><rect x="898" y="476" width="7" height="15" fill="#f23645"/>
<rect x="912" y="470" width="1" height="22" fill="#089981"/><rect x="909" y="477" width="7" height="14" fill="#089981"/>
<rect x="923" y="467" width="1" height="36" fill="#f23645"/><rect x="920" y="477" width="7" height="23" fill="#f23645"/>
<rect x="934" y="483" width="1" height="45" fill="#f23645"/><rect x="931" y="499" width="7" height="25" fill="#f23645"/>
<rect x="944" y="512" width="1" height="37" fill="#089981"/><rect x="941" y="521" width="7" height="3" fill="#089981"/>
<rect x="955" y="511" width="1" height="18" fill="#f23645"/><rect x="952" y="521" width="7" height="2" fill="#f23645"/>
<rect x="966" y="493" width="1" height="30" fill="#089981"/><rect x="963" y="500" width="7" height="22" fill="#089981"/>
<rect x="977" y="492" width="1" height="12" fill="#089981"/><rect x="974" y="498" width="7" height="2" fill="#089981"/>
<rect x="988" y="413" width="1" height="92" fill="#089981"/><rect x="985" y="422" width="7" height="77" fill="#089981"/>
<rect x="998" y="398" width="1" height="44" fill="#f23645"/><rect x="995" y="422" width="7" height="3" fill="#f23645"/>
<rect x="1009" y="399" width="1" height="41" fill="#089981"/><rect x="1006" y="418" width="7" height="7" fill="#089981"/>
<rect x="1020" y="393" width="1" height="34" fill="#f23645"/><rect x="1017" y="418" width="7" height="3" fill="#f23645"/>
<rect x="1031" y="405" width="1" height="31" fill="#f23645"/><rect x="1028" y="420" width="7" height="4" fill="#f23645"/>
<rect x="1041" y="383" width="1" height="47" fill="#089981"/><rect x="1038" y="419" width="7" height="5" fill="#089981"/>
<rect x="1052" y="405" width="1" height="60" fill="#f23645"/><rect x="1049" y="419" width="7" height="35" fill="#f23645"/>
<rect x="1063" y="422" width="1" height="34" fill="#089981"/><rect x="1060" y="424" width="7" height="30" fill="#089981"/>
<rect x="1074" y="409" width="1" height="17" fill="#089981"/><rect x="1071" y="417" width="7" height="7" fill="#089981"/>
<rect x="1085" y="366" width="1" height="56" fill="#089981"/><rect x="1082" y="373" width="7" height="43" fill="#089981"/>
<rect x="1095" y="282" width="1" height="95" fill="#089981"/><rect x="1092" y="289" width="7" height="84" fill="#089981"/>
<rect x="1106" y="274" width="1" height="41" fill="#089981"/><rect x="1103" y="276" width="7" height="13" fill="#089981"/>
<rect x="1117" y="270" width="1" height="62" fill="#f23645"/><rect x="1114" y="276" width="7" height="41" fill="#f23645"/>
<rect x="1128" y="228" width="1" height="90" fill="#089981"/><rect x="1125" y="235" width="7" height="82" fill="#089981"/>
<rect x="1139" y="179" width="1" height="65" fill="#089981"/><rect x="1136" y="211" width="7" height="25" fill="#089981"/>
<rect x="1149" y="160" width="1" height="96" fill="#089981"/><rect x="1146" y="179" width="7" height="33" fill="#089981"/>
<rect x="1160" y="177" width="1" height="58" fill="#f23645"/><rect x="1157" y="179" width="7" height="42" fill="#f23645"/>
<rect x="1171" y="210" width="1" height="29" fill="#f23645"/><rect x="1168" y="220" width="7" height="10" fill="#f23645"/>
<rect x="1182" y="180" width="1" height="53" fill="#089981"/><rect x="1179" y="197" width="7" height="32" fill="#089981"/>
<rect x="1192" y="190" width="1" height="27" fill="#f23645"/><rect x="1189" y="197" width="7" height="18" fill="#f23645"/>
<rect x="1203" y="213" width="1" height="67" fill="#f23645"/><rect x="1200" y="214" width="7" height="34" fill="#f23645"/>
<rect x="1214" y="225" width="1" height="28" fill="#089981"/><rect x="1211" y="228" width="7" height="20" fill="#089981"/>
</g>
<g clip-path="url(#rsi)">
<rect x="512" y="662" width="8.0" height="93.5" fill="#d02040" opacity="0.085"/>
<rect x="616.6" y="662" width="74.8" height="93.5" fill="#d02040" opacity="0.085"/>
<rect x="897" y="662" width="120.0" height="93.5" fill="#d02040" opacity="0.085"/>
<rect x="1026" y="662" width="11.6" height="93.5" fill="#d02040" opacity="0.085"/>
<rect x="203" y="662" width="168.0" height="93.5" fill="#2faa55" opacity="0.035"/>
<rect x="444" y="662" width="68.0" height="93.5" fill="#2faa55" opacity="0.035"/>
<rect x="1017" y="662" width="9.0" height="93.5" fill="#2faa55" opacity="0.035"/>
<rect x="1085" y="662" width="135.0" height="93.5" fill="#2faa55" opacity="0.035"/>
<rect x="14" y="680.3" width="1200.2" height="11" fill="url(#redband)"/>
<rect x="14" y="733.5" width="1200.2" height="13" fill="url(#greenband)"/>
<circle cx="17.8" cy="714.5" r="2.0" fill="#96202c" opacity="0.92"/>
<circle cx="28.6" cy="714.5" r="2.0" fill="#96202c" opacity="0.92"/>
<circle cx="39.4" cy="714.5" r="2.0" fill="#96202c" opacity="0.92"/>
<circle cx="50.1" cy="714.5" r="2.0" fill="#96202c" opacity="0.92"/>
<circle cx="60.9" cy="714.5" r="2.0" fill="#96202c" opacity="0.92"/>
<circle cx="71.7" cy="714.5" r="2.0" fill="#96202c" opacity="0.92"/>
<circle cx="82.5" cy="714.5" r="2.0" fill="#96202c" opacity="0.92"/>
<circle cx="93.3" cy="714.5" r="2.0" fill="#96202c" opacity="0.92"/>
<circle cx="104.0" cy="714.5" r="2.0" fill="#96202c" opacity="0.92"/>
<circle cx="114.8" cy="714.5" r="2.0" fill="#96202c" opacity="0.92"/>
<circle cx="125.6" cy="714.5" r="2.0" fill="#1c6e28" opacity="0.92"/>
<circle cx="136.4" cy="714.5" r="2.0" fill="#44704a" opacity="0.92"/>
<circle cx="147.2" cy="714.5" r="2.0" fill="#1c6e28" opacity="0.92"/>
<circle cx="158.0" cy="714.5" r="2.0" fill="#1c6e28" opacity="0.92"/>
<circle cx="168.7" cy="714.5" r="2.0" fill="#44704a" opacity="0.92"/>
<circle cx="179.5" cy="714.5" r="2.0" fill="#1c6e28" opacity="0.92"/>
<circle cx="190.3" cy="714.5" r="2.0" fill="#1c6e28" opacity="0.92"/>
<circle cx="201.1" cy="714.5" r="2.0" fill="#44704a" opacity="0.92"/>
<circle cx="211.9" cy="714.5" r="2.0" fill="#1c6e28" opacity="0.92"/>
<circle cx="222.6" cy="714.5" r="2.0" fill="#1c6e28" opacity="0.92"/>
<circle cx="233.4" cy="714.5" r="2.0" fill="#44704a" opacity="0.92"/>
<circle cx="244.2" cy="714.5" r="2.0" fill="#1c6e28" opacity="0.92"/>
<circle cx="255.0" cy="714.5" r="2.0" fill="#1c6e28" opacity="0.92"/>
<circle cx="265.8" cy="714.5" r="2.0" fill="#44704a" opacity="0.92"/>
<circle cx="276.5" cy="714.5" r="2.0" fill="#1c6e28" opacity="0.92"/>
<circle cx="287.3" cy="714.5" r="2.0" fill="#1c6e28" opacity="0.92"/>
<circle cx="298.1" cy="714.5" r="2.0" fill="#44704a" opacity="0.92"/>
<circle cx="308.9" cy="714.5" r="2.0" fill="#1c6e28" opacity="0.92"/>
<circle cx="319.7" cy="714.5" r="2.0" fill="#1c6e28" opacity="0.92"/>
<circle cx="330.4" cy="714.5" r="2.0" fill="#44704a" opacity="0.92"/>
<circle cx="341.2" cy="714.5" r="2.0" fill="#1c6e28" opacity="0.92"/>
<circle cx="352.0" cy="714.5" r="2.0" fill="#1c6e28" opacity="0.92"/>
<circle cx="362.8" cy="714.5" r="2.0" fill="#44704a" opacity="0.92"/>
<circle cx="373.6" cy="714.5" r="2.0" fill="#1c6e28" opacity="0.92"/>
<circle cx="384.4" cy="714.5" r="2.0" fill="#1c6e28" opacity="0.92"/>
<circle cx="395.1" cy="714.5" r="2.0" fill="#44704a" opacity="0.92"/>
<circle cx="405.9" cy="714.5" r="2.0" fill="#1c6e28" opacity="0.92"/>
<circle cx="416.7" cy="714.5" r="2.0" fill="#1c6e28" opacity="0.92"/>
<circle cx="427.5" cy="714.5" r="2.0" fill="#44704a" opacity="0.92"/>
<circle cx="438.3" cy="714.5" r="2.0" fill="#1c6e28" opacity="0.92"/>
<circle cx="449.0" cy="714.5" r="2.0" fill="#1c6e28" opacity="0.92"/>
<circle cx="459.8" cy="714.5" r="2.0" fill="#44704a" opacity="0.92"/>
<circle cx="470.6" cy="714.5" r="2.0" fill="#1c6e28" opacity="0.92"/>
<circle cx="481.4" cy="714.5" r="2.0" fill="#1c6e28" opacity="0.92"/>
<circle cx="492.2" cy="714.5" r="2.0" fill="#44704a" opacity="0.92"/>
<circle cx="502.9" cy="714.5" r="2.0" fill="#1c6e28" opacity="0.92"/>
<circle cx="513.7" cy="714.5" r="2.0" fill="#96202c" opacity="0.92"/>
<circle cx="524.5" cy="714.5" r="2.0" fill="#96202c" opacity="0.92"/>
<circle cx="535.3" cy="714.5" r="2.0" fill="#1c6e28" opacity="0.92"/>
<circle cx="546.1" cy="714.5" r="2.0" fill="#96202c" opacity="0.92"/>
<circle cx="556.9" cy="714.5" r="2.0" fill="#96202c" opacity="0.92"/>
<circle cx="567.6" cy="714.5" r="2.0" fill="#96202c" opacity="0.92"/>
<circle cx="578.4" cy="714.5" r="2.0" fill="#96202c" opacity="0.92"/>
<circle cx="589.2" cy="714.5" r="2.0" fill="#96202c" opacity="0.92"/>
<circle cx="600.0" cy="714.5" r="2.0" fill="#96202c" opacity="0.92"/>
<circle cx="610.8" cy="714.5" r="2.0" fill="#96202c" opacity="0.92"/>
<circle cx="621.5" cy="714.5" r="2.0" fill="#96202c" opacity="0.92"/>
<circle cx="632.3" cy="714.5" r="2.0" fill="#96202c" opacity="0.92"/>
<circle cx="643.1" cy="714.5" r="2.0" fill="#96202c" opacity="0.92"/>
<circle cx="653.9" cy="714.5" r="2.0" fill="#96202c" opacity="0.92"/>
<circle cx="664.7" cy="714.5" r="2.0" fill="#96202c" opacity="0.92"/>
<circle cx="675.4" cy="714.5" r="2.0" fill="#96202c" opacity="0.92"/>
<circle cx="686.2" cy="714.5" r="2.0" fill="#96202c" opacity="0.92"/>
<circle cx="697.0" cy="714.5" r="2.0" fill="#96202c" opacity="0.92"/>
<circle cx="707.8" cy="714.5" r="2.0" fill="#1c6e28" opacity="0.92"/>
<circle cx="718.6" cy="714.5" r="2.0" fill="#44704a" opacity="0.92"/>
<circle cx="729.3" cy="714.5" r="2.0" fill="#1c6e28" opacity="0.92"/>
<circle cx="740.1" cy="714.5" r="2.0" fill="#1c6e28" opacity="0.92"/>
<circle cx="750.9" cy="714.5" r="2.0" fill="#44704a" opacity="0.92"/>
<circle cx="761.7" cy="714.5" r="2.0" fill="#1c6e28" opacity="0.92"/>
<circle cx="772.5" cy="714.5" r="2.0" fill="#1c6e28" opacity="0.92"/>
<circle cx="783.3" cy="714.5" r="2.0" fill="#44704a" opacity="0.92"/>
<circle cx="794.0" cy="714.5" r="2.0" fill="#1c6e28" opacity="0.92"/>
<circle cx="804.8" cy="714.5" r="2.0" fill="#1c6e28" opacity="0.92"/>
<circle cx="815.6" cy="714.5" r="2.0" fill="#44704a" opacity="0.92"/>
<circle cx="826.4" cy="714.5" r="2.0" fill="#1c6e28" opacity="0.92"/>
<circle cx="837.2" cy="714.5" r="2.0" fill="#96202c" opacity="0.92"/>
<circle cx="847.9" cy="714.5" r="2.0" fill="#96202c" opacity="0.92"/>
<circle cx="858.7" cy="714.5" r="2.0" fill="#96202c" opacity="0.92"/>
<circle cx="869.5" cy="714.5" r="2.0" fill="#96202c" opacity="0.92"/>
<circle cx="880.3" cy="714.5" r="2.0" fill="#96202c" opacity="0.92"/>
<circle cx="891.1" cy="714.5" r="2.0" fill="#96202c" opacity="0.92"/>
<circle cx="901.8" cy="714.5" r="2.0" fill="#96202c" opacity="0.92"/>
<circle cx="912.6" cy="714.5" r="2.0" fill="#96202c" opacity="0.92"/>
<circle cx="923.4" cy="714.5" r="2.0" fill="#96202c" opacity="0.92"/>
<circle cx="934.2" cy="714.5" r="2.0" fill="#96202c" opacity="0.92"/>
<circle cx="945.0" cy="714.5" r="2.0" fill="#96202c" opacity="0.92"/>
<circle cx="955.7" cy="714.5" r="2.0" fill="#96202c" opacity="0.92"/>
<circle cx="966.5" cy="714.5" r="2.0" fill="#96202c" opacity="0.92"/>
<circle cx="977.3" cy="714.5" r="2.0" fill="#96202c" opacity="0.92"/>
<circle cx="988.1" cy="714.5" r="2.0" fill="#96202c" opacity="0.92"/>
<circle cx="998.9" cy="714.5" r="2.0" fill="#96202c" opacity="0.92"/>
<circle cx="1009.7" cy="714.5" r="2.0" fill="#96202c" opacity="0.92"/>
<circle cx="1020.4" cy="714.5" r="2.0" fill="#1c6e28" opacity="0.92"/>
<circle cx="1031.2" cy="714.5" r="2.0" fill="#96202c" opacity="0.92"/>
<circle cx="1042.0" cy="714.5" r="2.0" fill="#44704a" opacity="0.92"/>
<circle cx="1052.8" cy="714.5" r="2.0" fill="#96202c" opacity="0.92"/>
<circle cx="1063.6" cy="714.5" r="2.0" fill="#96202c" opacity="0.92"/>
<circle cx="1074.3" cy="714.5" r="2.0" fill="#96202c" opacity="0.92"/>
<circle cx="1085.1" cy="714.5" r="2.0" fill="#1c6e28" opacity="0.92"/>
<circle cx="1095.9" cy="714.5" r="2.0" fill="#1c6e28" opacity="0.92"/>
<circle cx="1106.7" cy="714.5" r="2.0" fill="#44704a" opacity="0.92"/>
<circle cx="1117.5" cy="714.5" r="2.0" fill="#1c6e28" opacity="0.92"/>
<circle cx="1128.2" cy="714.5" r="2.0" fill="#1c6e28" opacity="0.92"/>
<circle cx="1139.0" cy="714.5" r="2.0" fill="#44704a" opacity="0.92"/>
<circle cx="1149.8" cy="714.5" r="2.0" fill="#1c6e28" opacity="0.92"/>
<circle cx="1160.6" cy="714.5" r="2.0" fill="#1c6e28" opacity="0.92"/>
<circle cx="1171.4" cy="714.5" r="2.0" fill="#44704a" opacity="0.92"/>
<circle cx="1182.1" cy="714.5" r="2.0" fill="#1c6e28" opacity="0.92"/>
<circle cx="1192.9" cy="714.5" r="2.0" fill="#1c6e28" opacity="0.92"/>
<circle cx="1203.7" cy="714.5" r="2.0" fill="#44704a" opacity="0.92"/>
<circle cx="1214.5" cy="714.5" r="2.0" fill="#1c6e28" opacity="0.92"/>
<line x1="15.2" y1="715.4" x2="25.5" y2="719.8" stroke="#f7525f" stroke-width="1.2" stroke-linecap="round"/>
<line x1="25.5" y1="719.8" x2="36" y2="721.2" stroke="#f7525f" stroke-width="1.2" stroke-linecap="round"/>
<line x1="36" y1="721.2" x2="47" y2="722.4" stroke="#f7525f" stroke-width="1.2" stroke-linecap="round"/>
<line x1="47" y1="722.4" x2="60" y2="723.3" stroke="#f7525f" stroke-width="1.2" stroke-linecap="round"/>
<line x1="60" y1="723.3" x2="71.1" y2="725" stroke="#f7525f" stroke-width="1.2" stroke-linecap="round"/>
<line x1="71.1" y1="725" x2="82.2" y2="713.4" stroke="#4caf50" stroke-width="1.2" stroke-linecap="round"/>
<line x1="82.2" y1="713.4" x2="93" y2="718.5" stroke="#f7525f" stroke-width="1.2" stroke-linecap="round"/>
<line x1="93" y1="718.5" x2="103.6" y2="723.7" stroke="#f7525f" stroke-width="1.2" stroke-linecap="round"/>
<line x1="103.6" y1="723.7" x2="114.5" y2="716.5" stroke="#4caf50" stroke-width="1.2" stroke-linecap="round"/>
<line x1="114.5" y1="716.5" x2="126.1" y2="709" stroke="#4caf50" stroke-width="1.2" stroke-linecap="round"/>
<line x1="126.1" y1="709" x2="136.8" y2="703.6" stroke="#4caf50" stroke-width="1.2" stroke-linecap="round"/>
<line x1="136.8" y1="703.6" x2="147.5" y2="698.2" stroke="#4caf50" stroke-width="1.2" stroke-linecap="round"/>
<line x1="147.5" y1="698.2" x2="158.3" y2="700.7" stroke="#4caf50" stroke-width="1.2" stroke-linecap="round"/>
<line x1="158.3" y1="700.7" x2="167.3" y2="698.7" stroke="#4caf50" stroke-width="1.2" stroke-linecap="round"/>
<line x1="167.3" y1="698.7" x2="178.3" y2="693.3" stroke="#4caf50" stroke-width="1.2" stroke-linecap="round"/>
<line x1="178.3" y1="693.3" x2="189.2" y2="687.9" stroke="#4caf50" stroke-width="1.2" stroke-linecap="round"/>
<line x1="189.2" y1="687.9" x2="200.8" y2="698.7" stroke="#4caf50" stroke-width="1.2" stroke-linecap="round"/>
<line x1="200.8" y1="698.7" x2="211.2" y2="695.6" stroke="#4caf50" stroke-width="1.2" stroke-linecap="round"/>
<line x1="211.2" y1="695.6" x2="221.5" y2="695.6" stroke="#4caf50" stroke-width="1.2" stroke-linecap="round"/>
<line x1="221.5" y1="695.6" x2="232.3" y2="700" stroke="#4caf50" stroke-width="1.2" stroke-linecap="round"/>
<line x1="232.3" y1="700" x2="243.4" y2="691.5" stroke="#4caf50" stroke-width="1.2" stroke-linecap="round"/>
<line x1="243.4" y1="691.5" x2="253.7" y2="692.2" stroke="#4caf50" stroke-width="1.2" stroke-linecap="round"/>
<line x1="253.7" y1="692.2" x2="265.3" y2="703.8" stroke="#f7525f" stroke-width="1.2" stroke-linecap="round"/>
<line x1="265.3" y1="703.8" x2="276.4" y2="703.3" stroke="#f7525f" stroke-width="1.2" stroke-linecap="round"/>
<line x1="276.4" y1="703.3" x2="287.2" y2="698.7" stroke="#4caf50" stroke-width="1.2" stroke-linecap="round"/>
<line x1="287.2" y1="698.7" x2="298.3" y2="685.8" stroke="#4caf50" stroke-width="1.2" stroke-linecap="round"/>
<line x1="298.3" y1="685.8" x2="309.2" y2="680.6" stroke="#4caf50" stroke-width="1.2" stroke-linecap="round"/>
<line x1="309.2" y1="680.6" x2="320" y2="677.2" stroke="#4caf50" stroke-width="1.2" stroke-linecap="round"/>
<line x1="320" y1="677.2" x2="330.6" y2="674.2" stroke="#4caf50" stroke-width="1.2" stroke-linecap="round"/>
<line x1="330.6" y1="674.2" x2="341.4" y2="684.5" stroke="#4caf50" stroke-width="1.2" stroke-linecap="round"/>
<line x1="341.4" y1="684.5" x2="351.7" y2="691.5" stroke="#f7525f" stroke-width="1.2" stroke-linecap="round"/>
<line x1="351.7" y1="691.5" x2="362" y2="688.4" stroke="#4caf50" stroke-width="1.2" stroke-linecap="round"/>
<line x1="362" y1="688.4" x2="373.1" y2="693.5" stroke="#f7525f" stroke-width="1.2" stroke-linecap="round"/>
<line x1="373.1" y1="693.5" x2="384" y2="703.8" stroke="#f7525f" stroke-width="1.2" stroke-linecap="round"/>
<line x1="384" y1="703.8" x2="394.3" y2="703.8" stroke="#f7525f" stroke-width="1.2" stroke-linecap="round"/>
<line x1="394.3" y1="703.8" x2="405.2" y2="700.7" stroke="#f7525f" stroke-width="1.2" stroke-linecap="round"/>
<line x1="405.2" y1="700.7" x2="415.5" y2="705.1" stroke="#f7525f" stroke-width="1.2" stroke-linecap="round"/>
<line x1="415.5" y1="705.1" x2="427.1" y2="711.6" stroke="#f7525f" stroke-width="1.2" stroke-linecap="round"/>
<line x1="427.1" y1="711.6" x2="437.9" y2="707.7" stroke="#f7525f" stroke-width="1.2" stroke-linecap="round"/>
<line x1="437.9" y1="707.7" x2="449" y2="693.5" stroke="#4caf50" stroke-width="1.2" stroke-linecap="round"/>
<line x1="449" y1="693.5" x2="459.5" y2="695.4" stroke="#4caf50" stroke-width="1.2" stroke-linecap="round"/>
<line x1="459.5" y1="695.4" x2="469.6" y2="697.4" stroke="#4caf50" stroke-width="1.2" stroke-linecap="round"/>
<line x1="469.6" y1="697.4" x2="481.2" y2="700" stroke="#f7525f" stroke-width="1.2" stroke-linecap="round"/>
<line x1="481.2" y1="700" x2="491.6" y2="705.6" stroke="#f7525f" stroke-width="1.2" stroke-linecap="round"/>
<line x1="491.6" y1="705.6" x2="503.2" y2="705.6" stroke="#f7525f" stroke-width="1.2" stroke-linecap="round"/>
<line x1="503.2" y1="705.6" x2="513.5" y2="718" stroke="#f7525f" stroke-width="1.2" stroke-linecap="round"/>
<line x1="513.5" y1="718" x2="524.3" y2="711.8" stroke="#f7525f" stroke-width="1.2" stroke-linecap="round"/>
<line x1="524.3" y1="711.8" x2="534.9" y2="705.6" stroke="#f7525f" stroke-width="1.2" stroke-linecap="round"/>
<line x1="534.9" y1="705.6" x2="545.7" y2="712.9" stroke="#f7525f" stroke-width="1.2" stroke-linecap="round"/>
<line x1="545.7" y1="712.9" x2="556" y2="721.1" stroke="#f7525f" stroke-width="1.2" stroke-linecap="round"/>
<line x1="556" y1="721.1" x2="567.6" y2="723.2" stroke="#f7525f" stroke-width="1.2" stroke-linecap="round"/>
<line x1="567.6" y1="723.2" x2="578" y2="721.9" stroke="#f7525f" stroke-width="1.2" stroke-linecap="round"/>
<line x1="578" y1="721.9" x2="588.8" y2="719.3" stroke="#f7525f" stroke-width="1.2" stroke-linecap="round"/>
<line x1="588.8" y1="719.3" x2="599.9" y2="724" stroke="#f7525f" stroke-width="1.2" stroke-linecap="round"/>
<line x1="599.9" y1="724" x2="610.2" y2="726.5" stroke="#f7525f" stroke-width="1.2" stroke-linecap="round"/>
<line x1="610.2" y1="726.5" x2="620.5" y2="726.5" stroke="#f7525f" stroke-width="1.2" stroke-linecap="round"/>
<line x1="620.5" y1="726.5" x2="632.1" y2="719.8" stroke="#f7525f" stroke-width="1.2" stroke-linecap="round"/>
<line x1="632.1" y1="719.8" x2="642.4" y2="718.3" stroke="#f7525f" stroke-width="1.2" stroke-linecap="round"/>
<line x1="642.4" y1="718.3" x2="654" y2="721.9" stroke="#f7525f" stroke-width="1.2" stroke-linecap="round"/>
<line x1="654" y1="721.9" x2="664.3" y2="721.4" stroke="#f7525f" stroke-width="1.2" stroke-linecap="round"/>
<line x1="664.3" y1="721.4" x2="675.4" y2="714.7" stroke="#4caf50" stroke-width="1.2" stroke-linecap="round"/>
<line x1="675.4" y1="714.7" x2="686.3" y2="719.3" stroke="#f7525f" stroke-width="1.2" stroke-linecap="round"/>
<line x1="686.3" y1="719.3" x2="696.6" y2="720.6" stroke="#f7525f" stroke-width="1.2" stroke-linecap="round"/>
<line x1="696.6" y1="720.6" x2="707.4" y2="705.6" stroke="#4caf50" stroke-width="1.2" stroke-linecap="round"/>
<line x1="707.4" y1="705.6" x2="717.7" y2="708.2" stroke="#4caf50" stroke-width="1.2" stroke-linecap="round"/>
<line x1="717.7" y1="708.2" x2="728.8" y2="702.6" stroke="#4caf50" stroke-width="1.2" stroke-linecap="round"/>
<line x1="728.8" y1="702.6" x2="739.1" y2="697.9" stroke="#4caf50" stroke-width="1.2" stroke-linecap="round"/>
<line x1="739.1" y1="697.9" x2="750.2" y2="694" stroke="#4caf50" stroke-width="1.2" stroke-linecap="round"/>
<line x1="750.2" y1="694" x2="761.1" y2="694.8" stroke="#4caf50" stroke-width="1.2" stroke-linecap="round"/>
<line x1="761.1" y1="694.8" x2="771.9" y2="709" stroke="#f7525f" stroke-width="1.2" stroke-linecap="round"/>
<line x1="771.9" y1="709" x2="782.5" y2="708.2" stroke="#f7525f" stroke-width="1.2" stroke-linecap="round"/>
<line x1="782.5" y1="708.2" x2="793.9" y2="704.4" stroke="#4caf50" stroke-width="1.2" stroke-linecap="round"/>
<line x1="793.9" y1="704.4" x2="804.2" y2="710.3" stroke="#f7525f" stroke-width="1.2" stroke-linecap="round"/>
<line x1="804.2" y1="710.3" x2="815.8" y2="712.1" stroke="#f7525f" stroke-width="1.2" stroke-linecap="round"/>
<line x1="815.8" y1="712.1" x2="826.1" y2="712.1" stroke="#f7525f" stroke-width="1.2" stroke-linecap="round"/>
<line x1="826.1" y1="712.1" x2="837.2" y2="718.8" stroke="#f7525f" stroke-width="1.2" stroke-linecap="round"/>
<line x1="837.2" y1="718.8" x2="848" y2="722.7" stroke="#f7525f" stroke-width="1.2" stroke-linecap="round"/>
<line x1="848" y1="722.7" x2="858.3" y2="721.9" stroke="#f7525f" stroke-width="1.2" stroke-linecap="round"/>
<line x1="858.3" y1="721.9" x2="869.2" y2="718.3" stroke="#f7525f" stroke-width="1.2" stroke-linecap="round"/>
<line x1="869.2" y1="718.3" x2="879.7" y2="723.2" stroke="#f7525f" stroke-width="1.2" stroke-linecap="round"/>
<line x1="879.7" y1="723.2" x2="890.6" y2="730.1" stroke="#f7525f" stroke-width="1.2" stroke-linecap="round"/>
<line x1="890.6" y1="730.1" x2="900.9" y2="732.2" stroke="#f7525f" stroke-width="1.2" stroke-linecap="round"/>
<line x1="900.9" y1="732.2" x2="912" y2="728.9" stroke="#f7525f" stroke-width="1.2" stroke-linecap="round"/>
<line x1="912" y1="728.9" x2="922.8" y2="732.2" stroke="#f7525f" stroke-width="1.2" stroke-linecap="round"/>
<line x1="922.8" y1="732.2" x2="933.9" y2="735" stroke="#f7525f" stroke-width="1.2" stroke-linecap="round"/>
<line x1="933.9" y1="735" x2="944.5" y2="734.9" stroke="#f7525f" stroke-width="1.2" stroke-linecap="round"/>
<line x1="944.5" y1="734.9" x2="955" y2="734.8" stroke="#f7525f" stroke-width="1.2" stroke-linecap="round"/>
<line x1="955" y1="734.8" x2="966.1" y2="728.1" stroke="#f7525f" stroke-width="1.2" stroke-linecap="round"/>
<line x1="966.1" y1="728.1" x2="977" y2="728.1" stroke="#f7525f" stroke-width="1.2" stroke-linecap="round"/>
<line x1="977" y1="728.1" x2="988.1" y2="712.1" stroke="#4caf50" stroke-width="1.2" stroke-linecap="round"/>
<line x1="988.1" y1="712.1" x2="998.9" y2="712.1" stroke="#4caf50" stroke-width="1.2" stroke-linecap="round"/>
<line x1="998.9" y1="712.1" x2="1009.2" y2="711.1" stroke="#4caf50" stroke-width="1.2" stroke-linecap="round"/>
<line x1="1009.2" y1="711.1" x2="1020" y2="711.4" stroke="#4caf50" stroke-width="1.2" stroke-linecap="round"/>
<line x1="1020" y1="711.4" x2="1031.1" y2="711.6" stroke="#4caf50" stroke-width="1.2" stroke-linecap="round"/>
<line x1="1031.1" y1="711.6" x2="1041.5" y2="710.8" stroke="#4caf50" stroke-width="1.2" stroke-linecap="round"/>
<line x1="1041.5" y1="710.8" x2="1052.3" y2="719.3" stroke="#f7525f" stroke-width="1.2" stroke-linecap="round"/>
<line x1="1052.3" y1="719.3" x2="1063.4" y2="711.6" stroke="#4caf50" stroke-width="1.2" stroke-linecap="round"/>
<line x1="1063.4" y1="711.6" x2="1073.7" y2="710.3" stroke="#4caf50" stroke-width="1.2" stroke-linecap="round"/>
<line x1="1073.7" y1="710.3" x2="1084.8" y2="701.3" stroke="#4caf50" stroke-width="1.2" stroke-linecap="round"/>
<line x1="1084.8" y1="701.3" x2="1095.6" y2="690.9" stroke="#4caf50" stroke-width="1.2" stroke-linecap="round"/>
<line x1="1095.6" y1="690.9" x2="1105.9" y2="689.7" stroke="#4caf50" stroke-width="1.2" stroke-linecap="round"/>
<line x1="1105.9" y1="689.7" x2="1117" y2="699.2" stroke="#4caf50" stroke-width="1.2" stroke-linecap="round"/>
<line x1="1117" y1="699.2" x2="1127.8" y2="690.4" stroke="#4caf50" stroke-width="1.2" stroke-linecap="round"/>
<line x1="1127.8" y1="690.4" x2="1138.2" y2="688.4" stroke="#4caf50" stroke-width="1.2" stroke-linecap="round"/>
<line x1="1138.2" y1="688.4" x2="1149" y2="685.8" stroke="#4caf50" stroke-width="1.2" stroke-linecap="round"/>
<line x1="1149" y1="685.8" x2="1160.1" y2="694" stroke="#4caf50" stroke-width="1.2" stroke-linecap="round"/>
<line x1="1160.1" y1="694" x2="1170.4" y2="696.1" stroke="#4caf50" stroke-width="1.2" stroke-linecap="round"/>
<line x1="1170.4" y1="696.1" x2="1181.2" y2="693" stroke="#4caf50" stroke-width="1.2" stroke-linecap="round"/>
<line x1="1181.2" y1="693" x2="1191.8" y2="695.4" stroke="#4caf50" stroke-width="1.2" stroke-linecap="round"/>
<line x1="1191.8" y1="695.4" x2="1203" y2="702.1" stroke="#f7525f" stroke-width="1.2" stroke-linecap="round"/>
<line x1="1203" y1="702.1" x2="1214.7" y2="700.5" stroke="#f7525f" stroke-width="1.2" stroke-linecap="round"/>
<polygon points="273.2,698.9 279.6,698.9 276.4,704.3" fill="#f7525f"/>
<polygon points="369.9,689.1 376.3,689.1 373.1,694.5" fill="#f7525f"/>
<polygon points="478.0,696.8 484.4,696.8 481.2,702.2" fill="#f7525f"/>
<polygon points="683.1,717.4 689.5,717.4 686.3,722.8" fill="#f7525f"/>
<polygon points="801.0,706.6 807.4,706.6 804.2,712.0" fill="#f7525f"/>
<polygon points="1199.8,697.4 1206.2,697.4 1203.0,702.8" fill="#f7525f"/>
<polygon points="284.0,702.6 290.4,702.6 287.2,697.0" fill="#4caf50"/>
<polygon points="466.4,701.3 472.8,701.3 469.6,695.7" fill="#4caf50"/>
<polygon points="672.2,721.9 678.6,721.9 675.4,716.3" fill="#4caf50"/>
<polygon points="984.9,727.1 991.3,727.1 988.1,721.5" fill="#4caf50"/>
<rect x="11.3" y="690.0" width="12.8" height="23.0" rx="2.8" fill="#fb5252"/>
<polygon points="15.4,712.7 20.0,712.7 17.7,714.8" fill="#fb5252"/>
<text x="14.1" y="706.1" font-size="17.4" fill="#ffffff" textLength="7.2" lengthAdjust="spacingAndGlyphs" font-family='"Liberation Serif", serif' class="sl">S</text>
<rect x="507.2" y="690.0" width="12.8" height="23.0" rx="2.8" fill="#fb5252"/>
<polygon points="511.3,712.7 515.9,712.7 513.6,714.8" fill="#fb5252"/>
<text x="510.0" y="706.1" font-size="17.4" fill="#ffffff" textLength="7.2" lengthAdjust="spacingAndGlyphs" font-family='"Liberation Serif", serif' class="sl">S</text>
<rect x="550.4" y="690.0" width="12.8" height="23.0" rx="2.8" fill="#fb5252"/>
<polygon points="554.5,712.7 559.0,712.7 556.8,714.8" fill="#fb5252"/>
<text x="553.1" y="706.1" font-size="17.4" fill="#ffffff" textLength="7.2" lengthAdjust="spacingAndGlyphs" font-family='"Liberation Serif", serif' class="sl">S</text>
<rect x="830.7" y="690.0" width="12.8" height="23.0" rx="2.8" fill="#fb5252"/>
<polygon points="834.8,712.7 839.4,712.7 837.1,714.8" fill="#fb5252"/>
<text x="833.5" y="706.1" font-size="17.4" fill="#ffffff" textLength="7.2" lengthAdjust="spacingAndGlyphs" font-family='"Liberation Serif", serif' class="sl">S</text>
<rect x="1046.3" y="690.0" width="12.8" height="23.0" rx="2.8" fill="#fb5252"/>
<polygon points="1050.4,712.7 1055.0,712.7 1052.7,714.8" fill="#fb5252"/>
<text x="1049.1" y="706.1" font-size="17.4" fill="#ffffff" textLength="7.2" lengthAdjust="spacingAndGlyphs" font-family='"Liberation Serif", serif' class="sl">S</text>
<rect x="119.0" y="715.0" width="13.0" height="23.0" rx="2.8" fill="#4ab54d"/>
<polygon points="123.2,715.3 127.8,715.3 125.5,713.2" fill="#4ab54d"/>
<text x="122.0" y="731.1" font-size="15.6" fill="#ffffff" textLength="7.1" lengthAdjust="spacingAndGlyphs" class="sl">L</text>
<rect x="701.2" y="715.0" width="13.0" height="23.0" rx="2.8" fill="#4ab54d"/>
<polygon points="705.4,715.3 710.0,715.3 707.7,713.2" fill="#4ab54d"/>
<text x="704.1" y="731.1" font-size="15.6" fill="#ffffff" textLength="7.1" lengthAdjust="spacingAndGlyphs" class="sl">L</text>
</g>
<line x1="14" y1="662.5" x2="1451.5" y2="662.5" stroke="#272b37" stroke-width="1" shape-rendering="crispEdges"/>
<g>
<rect x="1329.7" y="418" width="113.7" height="32.4" fill="#0a800a"/>
<rect x="1075.8" y="451.2" width="96.4" height="32.3" fill="rgba(38,39,42,0.86)"/>
<rect x="1176.9" y="451.2" width="146.5" height="32.3" fill="rgba(38,39,42,0.86)"/>
<rect x="1329.7" y="451.2" width="113.7" height="32.3" fill="rgba(38,39,42,0.86)"/>
<rect x="1172.2" y="451.2" width="4.7" height="32.3" fill="rgba(30,31,35,0.8)"/>
<rect x="1323.4" y="451.2" width="6.3" height="32.3" fill="rgba(30,31,35,0.8)"/>
<rect x="1075.8" y="484.3" width="96.4" height="32.2" fill="rgba(38,39,42,0.86)"/>
<rect x="1176.9" y="484.3" width="146.5" height="32.2" fill="rgba(38,39,42,0.86)"/>
<rect x="1329.7" y="484.3" width="113.7" height="32.2" fill="rgba(38,39,42,0.86)"/>
<rect x="1172.2" y="484.3" width="4.7" height="32.2" fill="rgba(30,31,35,0.8)"/>
<rect x="1323.4" y="484.3" width="6.3" height="32.2" fill="rgba(30,31,35,0.8)"/>
<rect x="1075.8" y="517.3" width="96.4" height="32.3" fill="rgba(38,39,42,0.86)"/>
<rect x="1176.9" y="517.3" width="146.5" height="32.3" fill="rgba(38,39,42,0.86)"/>
<rect x="1329.7" y="517.3" width="113.7" height="32.3" fill="rgba(38,39,42,0.86)"/>
<rect x="1172.2" y="517.3" width="4.7" height="32.3" fill="rgba(30,31,35,0.8)"/>
<rect x="1323.4" y="517.3" width="6.3" height="32.3" fill="rgba(30,31,35,0.8)"/>
<rect x="1075.8" y="550.4" width="96.4" height="32.2" fill="rgba(38,39,42,0.86)"/>
<rect x="1176.9" y="550.4" width="146.5" height="32.2" fill="rgba(38,39,42,0.86)"/>
<rect x="1329.7" y="550.4" width="113.7" height="32.2" fill="rgba(38,39,42,0.86)"/>
<rect x="1172.2" y="550.4" width="4.7" height="32.2" fill="rgba(30,31,35,0.8)"/>
<rect x="1323.4" y="550.4" width="6.3" height="32.2" fill="rgba(30,31,35,0.8)"/>
<rect x="1075.8" y="583.4" width="96.4" height="32.3" fill="rgba(38,39,42,0.86)"/>
<rect x="1176.9" y="583.4" width="146.5" height="32.3" fill="rgba(38,39,42,0.86)"/>
<rect x="1329.7" y="583.4" width="113.7" height="32.3" fill="rgba(38,39,42,0.86)"/>
<rect x="1172.2" y="583.4" width="4.7" height="32.3" fill="rgba(30,31,35,0.8)"/>
<rect x="1323.4" y="583.4" width="6.3" height="32.3" fill="rgba(30,31,35,0.8)"/>
<rect x="1075.8" y="616.5" width="367.6" height="31.5" fill="rgba(38,39,42,0.86)"/>
<text x="1134.0" y="570.8" font-size="15" fill="#5a5c63" textLength="47.0" lengthAdjust="spacingAndGlyphs" >Bars: 10</text>
<text x="1081.3" y="438.9" font-size="17.2" fill="#f6f6f6" textLength="69.7" lengthAdjust="spacingAndGlyphs" class="tb">Indicator</text>
<text x="1183.1" y="438.9" font-size="17.2" fill="#f6f6f6" textLength="47.8" lengthAdjust="spacingAndGlyphs" class="tb">Status</text>
<text x="1336.0" y="438.9" font-size="17.2" fill="#f6f6f6" textLength="98.6" lengthAdjust="spacingAndGlyphs" class="tb">Proyect 50 %</text>
<text x="1081.3" y="471.9" font-size="17.2" fill="#f6f6f6" textLength="62.4" lengthAdjust="spacingAndGlyphs" class="tb">1. EMA's</text>
<text x="1183.1" y="471.9" font-size="17.2" fill="#f6f6f6" textLength="83.0" lengthAdjust="spacingAndGlyphs" class="tb">50 &gt; 200 ↗</text>
<circle cx="1347.8" cy="466.1" r="8.8" fill="url(#gball)"/>
<text x="1365.4" y="471.9" font-size="17.2" fill="#f6f6f6" textLength="36.5" lengthAdjust="spacingAndGlyphs" class="tb">Long</text>
<text x="1081.3" y="505.0" font-size="17.2" fill="#f6f6f6" textLength="85.5" lengthAdjust="spacingAndGlyphs" class="tb">2. SQZMON</text>
<text x="1183.1" y="505.0" font-size="17.2" fill="#f6f6f6" textLength="137.0" lengthAdjust="spacingAndGlyphs" class="tb">Impulso Bajista ↘</text>
<circle cx="1347.8" cy="499.2" r="8.8" fill="url(#rball)"/>
<text x="1365.4" y="505.0" font-size="17.2" fill="#f6f6f6" textLength="41.5" lengthAdjust="spacingAndGlyphs" class="tb">Short</text>
<text x="1081.3" y="538.0" font-size="17.2" fill="#f6f6f6" textLength="60.4" lengthAdjust="spacingAndGlyphs" class="tb">3. VPVP</text>
<text x="1183.1" y="538.0" font-size="17.2" fill="#f6f6f6" textLength="47.8" lengthAdjust="spacingAndGlyphs" class="tb">Arriba</text>
<circle cx="1347.8" cy="532.2" r="8.8" fill="url(#gball)"/>
<text x="1365.4" y="538.0" font-size="17.2" fill="#f6f6f6" textLength="36.5" lengthAdjust="spacingAndGlyphs" class="tb">Long</text>
<text x="1081.3" y="571.1" font-size="17.2" fill="#f6f6f6" textLength="51.1" lengthAdjust="spacingAndGlyphs" class="tb">4. ADX</text>
<text x="1183.1" y="571.1" font-size="17.2" fill="#f6f6f6" textLength="120.2" lengthAdjust="spacingAndGlyphs" class="tb">32 ↘ Tendencia</text>
<circle cx="1347.8" cy="565.3" r="8.8" fill="url(#gball)"/>
<text x="1365.4" y="571.1" font-size="17.2" fill="#f6f6f6" textLength="36.5" lengthAdjust="spacingAndGlyphs" class="tb">Long</text>
<text x="1081.3" y="604.1" font-size="17.2" fill="#f6f6f6" textLength="84.7" lengthAdjust="spacingAndGlyphs" class="tb">5. Squeeze</text>
<text x="1183.1" y="604.1" font-size="17.2" fill="#f6f6f6" textLength="30.7" lengthAdjust="spacingAndGlyphs" class="tb">OFF</text>
<circle cx="1347.8" cy="598.4" r="8.8" fill="url(#gball)"/>
<text x="1365.4" y="604.1" font-size="17.2" fill="#f6f6f6" textLength="36.5" lengthAdjust="spacingAndGlyphs" class="tb">Long</text>
<text x="1129.1" y="636.9" font-size="17.2" fill="#f6f6f6" textLength="147.1" lengthAdjust="spacingAndGlyphs" class="tb">Tendencia Alcista -</text>
<use href="#warn" x="1285" y="623.4"/>
<text x="1316.4" y="636.9" font-size="17.2" fill="#f6f6f6" textLength="44.0" lengthAdjust="spacingAndGlyphs" class="tb">Venta</text>
<use href="#warn" x="1374.2" y="623.4"/>
</g>
<g clip-path="url(#plot)">
<rect x="1224.9" y="35" width="1.3" height="720.5" fill="#ffffff"/>
<rect x="1278.9" y="35" width="1.3" height="720.5" fill="#ffffff"/>
<rect x="1321.6" y="35" width="1.3" height="720.5" fill="#ffffff"/>
<clipPath id="notable"><path clip-rule="evenodd" d="M0 0 H1551 V865 H0 Z M1075.8 418 H1443.4 V648.2 H1075.8 Z"/></clipPath>
<clipPath id="intable"><rect x="1075.8" y="451" width="367.6" height="197.2"/></clipPath>
<g clip-path="url(#notable)"><line x1="1073.33" y1="28.28" x2="1457.77" y2="553.90" stroke="#ffffff" stroke-width="3.7" stroke-linecap="round" stroke-dasharray="0 8.995"/></g>
<g clip-path="url(#intable)"><line x1="1073.33" y1="28.28" x2="1457.77" y2="553.90" stroke="#ffffff" stroke-width="2.7" stroke-linecap="round" stroke-dasharray="0 8.995"/></g>
<g clip-path="url(#main)">
<rect x="259.1" y="397.3" width="13.2" height="22.0" rx="2.8" fill="#fb5252"/>
<polygon points="263.4,419.0 268.0,419.0 265.7,421.1" fill="#fb5252"/>
<text x="262.1" y="413.3" font-size="17.4" fill="#ffffff" textLength="7.2" lengthAdjust="spacingAndGlyphs" font-family='"Liberation Serif", serif' class="sl">S</text>
<rect x="366.9" y="270.0" width="13.2" height="22.0" rx="2.8" fill="#fb5252"/>
<polygon points="371.2,291.7 375.8,291.7 373.5,293.8" fill="#fb5252"/>
<text x="369.9" y="286.0" font-size="17.4" fill="#ffffff" textLength="7.2" lengthAdjust="spacingAndGlyphs" font-family='"Liberation Serif", serif' class="sl">S</text>
<rect x="463.9" y="244.0" width="13.2" height="22.0" rx="2.8" fill="#fb5252"/>
<polygon points="468.2,265.7 472.8,265.7 470.5,267.8" fill="#fb5252"/>
<text x="466.9" y="260.0" font-size="17.4" fill="#ffffff" textLength="7.2" lengthAdjust="spacingAndGlyphs" font-family='"Liberation Serif", serif' class="sl">S</text>
<rect x="808.9" y="283.1" width="13.2" height="22.0" rx="2.8" fill="#fb5252"/>
<polygon points="813.2,304.8 817.8,304.8 815.5,306.9" fill="#fb5252"/>
<text x="811.9" y="299.1" font-size="17.4" fill="#ffffff" textLength="7.2" lengthAdjust="spacingAndGlyphs" font-family='"Liberation Serif", serif' class="sl">S</text>
<rect x="1197.0" y="183.2" width="13.2" height="22.0" rx="2.8" fill="#fb5252"/>
<polygon points="1201.3,204.9 1205.9,204.9 1203.6,207.0" fill="#fb5252"/>
<text x="1200.0" y="199.2" font-size="17.4" fill="#ffffff" textLength="7.2" lengthAdjust="spacingAndGlyphs" font-family='"Liberation Serif", serif' class="sl">S</text>
<rect x="74.9" y="533.8" width="15.0" height="22.0" rx="2.8" fill="#4ab54d"/>
<polygon points="80.1,534.1 84.7,534.1 82.4,532.0" fill="#4ab54d"/>
<text x="78.6" y="548.9" font-size="16.3" fill="#ffffff" textLength="7.6" lengthAdjust="spacingAndGlyphs" font-weight="bold" font-family='"Liberation Serif", serif' >B</text>
<rect x="107.2" y="536.9" width="15.0" height="22.0" rx="2.8" fill="#4ab54d"/>
<polygon points="112.4,537.2 117.0,537.2 114.7,535.1" fill="#4ab54d"/>
<text x="110.9" y="552.0" font-size="16.3" fill="#ffffff" textLength="7.6" lengthAdjust="spacingAndGlyphs" font-weight="bold" font-family='"Liberation Serif", serif' >B</text>
<rect x="527.7" y="354.5" width="15.0" height="22.0" rx="2.8" fill="#4ab54d"/>
<polygon points="532.9,354.8 537.5,354.8 535.2,352.7" fill="#4ab54d"/>
<text x="531.4" y="369.6" font-size="16.3" fill="#ffffff" textLength="7.6" lengthAdjust="spacingAndGlyphs" font-weight="bold" font-family='"Liberation Serif", serif' >B</text>
<rect x="667.8" y="440.1" width="15.0" height="22.0" rx="2.8" fill="#4ab54d"/>
<polygon points="673.0,440.4 677.6,440.4 675.3,438.3" fill="#4ab54d"/>
<text x="671.5" y="455.2" font-size="16.3" fill="#ffffff" textLength="7.6" lengthAdjust="spacingAndGlyphs" font-weight="bold" font-family='"Liberation Serif", serif' >B</text>
<rect x="980.5" y="513.9" width="15.0" height="22.0" rx="2.8" fill="#4ab54d"/>
<polygon points="985.7,514.2 990.3,514.2 988.0,512.1" fill="#4ab54d"/>
<text x="984.2" y="529.0" font-size="16.3" fill="#ffffff" textLength="7.6" lengthAdjust="spacingAndGlyphs" font-weight="bold" font-family='"Liberation Serif", serif' >B</text>
</g>
<g stroke="#fae55a" stroke-width="2.1" fill="none" stroke-linecap="round" stroke-linejoin="round"><line x1="1212.8" y1="224.2" x2="1212.8" y2="161.2"/><polyline points="1200.4,174.2 1212.8,161 1226.2,174.2"/></g>
<rect x="1125" y="118.2" width="177" height="29.6" rx="4" fill="#2b2b2d"/>
<text x="1135.8" y="137.8" font-size="15.5" fill="#f2f2f2" textLength="155.5" lengthAdjust="spacingAndGlyphs" stroke="#f2f2f2" stroke-width="0.35">582,73 (13,38%) 58.273</text>
<circle cx="1214.1" cy="613.5" r="12.2" fill="#1a1422" stroke="#a445c8" stroke-width="2"/>
<path d="M1216.3 606.2 L1209.6 614.6 L1213.6 614.6 L1211.9 620.8 L1218.7 612.2 L1214.6 612.2 Z" fill="#b14fd6"/>
<clipPath id="flagc"><circle cx="1214.1" cy="644.5" r="10.6"/></clipPath>
<g clip-path="url(#flagc)"><rect x="1203" y="633" width="23" height="23" fill="#f5f5f5"/>
<rect x="1203" y="634.0" width="23" height="3.1" fill="#e8455a"/>
<rect x="1203" y="640.2" width="23" height="3.1" fill="#e8455a"/>
<rect x="1203" y="646.4" width="23" height="3.1" fill="#e8455a"/>
<rect x="1203" y="652.6" width="23" height="3.1" fill="#e8455a"/>
<rect x="1203" y="633" width="10.6" height="11.4" fill="#3d6fd8"/>
<rect x="1206" y="637" width="1.2" height="1.2" fill="#ffffff"/>
<rect x="1210" y="637" width="1.2" height="1.2" fill="#ffffff"/>
<rect x="1206" y="641" width="1.2" height="1.2" fill="#ffffff"/>
<rect x="1210" y="641" width="1.2" height="1.2" fill="#ffffff"/>
<rect x="1208" y="639" width="1.2" height="1.2" fill="#ffffff"/>
</g>
<circle cx="1214.1" cy="644.5" r="11.8" fill="none" stroke="#e3283a" stroke-width="2.4"/>
</g>
<rect x="1451.5" y="35" width="85.5" height="753" fill="#151924"/>
<g clip-path="url(#diag)"><line x1="1073.33" y1="28.28" x2="1457.77" y2="553.90" stroke="#ffffff" stroke-width="3.7" stroke-linecap="round" stroke-dasharray="0 8.995"/></g>
<g stroke="#202431" stroke-width="1" shape-rendering="crispEdges">
<line x1="1451.5" y1="47.5" x2="1456.5" y2="47.5"/>
<line x1="1451.5" y1="90.5" x2="1456.5" y2="90.5"/>
<line x1="1451.5" y1="133.5" x2="1456.5" y2="133.5"/>
<line x1="1451.5" y1="176.5" x2="1456.5" y2="176.5"/>
<line x1="1451.5" y1="219.5" x2="1456.5" y2="219.5"/>
<line x1="1451.5" y1="262.5" x2="1456.5" y2="262.5"/>
<line x1="1451.5" y1="305.5" x2="1456.5" y2="305.5"/>
<line x1="1451.5" y1="348.5" x2="1456.5" y2="348.5"/>
<line x1="1451.5" y1="392.5" x2="1456.5" y2="392.5"/>
<line x1="1451.5" y1="435.5" x2="1456.5" y2="435.5"/>
<line x1="1451.5" y1="478.5" x2="1456.5" y2="478.5"/>
<line x1="1451.5" y1="521.5" x2="1456.5" y2="521.5"/>
<line x1="1451.5" y1="564.5" x2="1456.5" y2="564.5"/>
<line x1="1451.5" y1="607.5" x2="1456.5" y2="607.5"/>
<line x1="1451.5" y1="650.5" x2="1456.5" y2="650.5"/>
</g>
<line x1="1451.5" y1="35" x2="1451.5" y2="755.5" stroke="#272b37" stroke-width="1" shape-rendering="crispEdges"/>
<text x="1467.4" y="94.0" font-size="15.3" fill="#b2b5be" textLength="58.4" lengthAdjust="spacingAndGlyphs" >5.600,00</text>
<text x="1467.4" y="137.1" font-size="15.3" fill="#b2b5be" textLength="58.4" lengthAdjust="spacingAndGlyphs" >5.200,00</text>
<text x="1467.4" y="180.2" font-size="15.3" fill="#b2b5be" textLength="58.4" lengthAdjust="spacingAndGlyphs" >4.800,00</text>
<text x="1467.4" y="223.2" font-size="15.3" fill="#b2b5be" textLength="58.4" lengthAdjust="spacingAndGlyphs" >4.400,00</text>
<text x="1467.4" y="266.3" font-size="15.3" fill="#b2b5be" textLength="58.4" lengthAdjust="spacingAndGlyphs" >4.000,00</text>
<text x="1467.4" y="309.4" font-size="15.3" fill="#b2b5be" textLength="58.4" lengthAdjust="spacingAndGlyphs" >3.600,00</text>
<text x="1467.4" y="352.5" font-size="15.3" fill="#b2b5be" textLength="58.4" lengthAdjust="spacingAndGlyphs" >3.200,00</text>
<text x="1467.4" y="395.6" font-size="15.3" fill="#b2b5be" textLength="58.4" lengthAdjust="spacingAndGlyphs" >2.800,00</text>
<text x="1467.4" y="438.6" font-size="15.3" fill="#b2b5be" textLength="58.4" lengthAdjust="spacingAndGlyphs" >2.400,00</text>
<text x="1467.4" y="481.7" font-size="15.3" fill="#b2b5be" textLength="58.4" lengthAdjust="spacingAndGlyphs" >2.000,00</text>
<text x="1467.4" y="524.8" font-size="15.3" fill="#b2b5be" textLength="58.4" lengthAdjust="spacingAndGlyphs" >1.600,00</text>
<text x="1467.4" y="567.9" font-size="15.3" fill="#b2b5be" textLength="58.4" lengthAdjust="spacingAndGlyphs" >1.200,00</text>
<text x="1467.4" y="611.0" font-size="15.3" fill="#b2b5be" textLength="45.9" lengthAdjust="spacingAndGlyphs" >800,00</text>
<text x="1467.4" y="654.0" font-size="15.3" fill="#b2b5be" textLength="45.9" lengthAdjust="spacingAndGlyphs" >400,00</text>
<text x="1467.5" y="683.3" font-size="15.3" fill="#b2b5be" textLength="36.3" lengthAdjust="spacingAndGlyphs" >80,00</text>
<text x="1467.5" y="728.1" font-size="15.3" fill="#b2b5be" textLength="36.3" lengthAdjust="spacingAndGlyphs" >40,00</text>
<rect x="1451" y="158" width="6" height="5.2" fill="#ffffff"/>
<line x1="1450.0" y1="228.5" x2="1457" y2="228.5" stroke="#e8e8e8" stroke-width="1" stroke-dasharray="1 2"/>
<line x1="1449.6" y1="315.9" x2="1457" y2="315.9" stroke="#cf4a60" stroke-width="2.2" stroke-dasharray="2.2 3.83" stroke-dashoffset="0"/>
<rect x="1457" y="150" width="76.4" height="21" fill="#ffffff"/>
<text x="1467.6" y="165.4" font-size="15.3" fill="#131313" textLength="59.0" lengthAdjust="spacingAndGlyphs" >4.954,00</text>
<rect x="1457" y="218" width="75.8" height="38.8" fill="#ffffff"/>
<text x="1467.6" y="233.3" font-size="15.3" fill="#131313" textLength="57.8" lengthAdjust="spacingAndGlyphs" >4.316,43</text>
<text x="1467.8" y="251.4" font-size="15.3" fill="#555555" textLength="37.6" lengthAdjust="spacingAndGlyphs" >4d 7h</text>
<rect x="1457" y="306" width="75.8" height="20.4" fill="#f23645"/>
<text x="1467.6" y="320.9" font-size="15.3" fill="#ffffff" textLength="58.4" lengthAdjust="spacingAndGlyphs" >3.500,00</text>
<rect x="1391.8" y="662" width="51.6" height="46.2" fill="#ff5252"/>
<rect x="1391.8" y="709.2" width="51.6" height="45.8" fill="#388e3c"/>
<text x="1417.4" y="679.2" font-size="16" fill="#ffffff" text-anchor="middle" >62</text>
<text x="1417.4" y="695.9" font-size="16" fill="#ffffff" text-anchor="middle" >RSI</text>
<text x="1417.4" y="730.3" font-size="16" fill="#ffffff" text-anchor="middle" >32</text>
<text x="1417.4" y="747.0" font-size="16" fill="#ffffff" text-anchor="middle" >ADX</text>
<rect x="1461" y="38.8" width="72.4" height="32.4" rx="5" fill="#0f0f0f" stroke="#2e323c" stroke-width="1"/>
<text x="1472.5" y="59.7" font-size="14.5" fill="#d1d4dc" textLength="25.3" lengthAdjust="spacingAndGlyphs" >USD</text>
<g clip-path="url(#taxis)">
<text x="37.8" y="778.3" font-size="15.2" fill="#c9ccd3" textLength="23.4" lengthAdjust="spacingAndGlyphs" >Sep</text>
<text x="134.3" y="778.3" font-size="15.2" fill="#c9ccd3" textLength="24.5" lengthAdjust="spacingAndGlyphs" >Nov</text>
<text x="215.7" y="778.3" font-size="15.2" fill="#c9ccd3" textLength="34.2" lengthAdjust="spacingAndGlyphs" font-weight="bold" >2024</text>
<text x="317.6" y="778.3" font-size="15.2" fill="#c9ccd3" textLength="24.5" lengthAdjust="spacingAndGlyphs" >Mar</text>
<text x="409.6" y="778.3" font-size="15.2" fill="#c9ccd3" textLength="34.5" lengthAdjust="spacingAndGlyphs" >Mayo</text>
<text x="503.7" y="778.3" font-size="15.2" fill="#c9ccd3" textLength="18.8" lengthAdjust="spacingAndGlyphs" >Jul</text>
<text x="598.5" y="778.3" font-size="15.2" fill="#c9ccd3" textLength="23.4" lengthAdjust="spacingAndGlyphs" >Sep</text>
<text x="694.9" y="778.3" font-size="15.2" fill="#c9ccd3" textLength="24.5" lengthAdjust="spacingAndGlyphs" >Nov</text>
<text x="787.1" y="778.3" font-size="15.2" fill="#c9ccd3" textLength="34.2" lengthAdjust="spacingAndGlyphs" font-weight="bold" >2025</text>
<text x="878.2" y="778.3" font-size="15.2" fill="#c9ccd3" textLength="24.5" lengthAdjust="spacingAndGlyphs" >Mar</text>
<text x="970.2" y="778.3" font-size="15.2" fill="#c9ccd3" textLength="34.5" lengthAdjust="spacingAndGlyphs" >Mayo</text>
<text x="1075.1" y="778.3" font-size="15.2" fill="#c9ccd3" textLength="18.8" lengthAdjust="spacingAndGlyphs" >Jul</text>
<text x="1159.1" y="778.3" font-size="15.2" fill="#c9ccd3" textLength="23.4" lengthAdjust="spacingAndGlyphs" >Sep</text>
<text x="1255.5" y="778.3" font-size="15.2" fill="#c9ccd3" textLength="24.5" lengthAdjust="spacingAndGlyphs" >Nov</text>
<text x="1347.7" y="778.3" font-size="15.2" fill="#c9ccd3" textLength="34.2" lengthAdjust="spacingAndGlyphs" font-weight="bold" >2026</text>
<text x="1438.8" y="778.3" font-size="15.2" fill="#c9ccd3" textLength="24.5" lengthAdjust="spacingAndGlyphs" >Mar</text>
</g>
<rect x="1168" y="755.6" width="209.6" height="29.3" rx="3" fill="#ffffff"/>
<clipPath id="tl1"><rect x="1168" y="755" width="99.7" height="31"/></clipPath>
<text x="1179.6" y="778.4" font-size="15.6" fill="#131313" textLength="91.0" lengthAdjust="spacingAndGlyphs" clip-path="url(#tl1)">lun 06 Oct '25</text>
<text x="1278.5" y="778.4" font-size="15.6" fill="#131313" textLength="87.4" lengthAdjust="spacingAndGlyphs" >lun 08 Dic '25</text>
<rect x="13.1" y="34.3" width="1524.8000000000002" height="755.2" fill="none" stroke="#32353c" stroke-width="1.7"/>
<text x="23.1" y="58.9" font-size="15.8" fill="#b9bcc5" textLength="312.5" lengthAdjust="spacingAndGlyphs" >Ethereum/Dólar estadounidense · 1S · CRYPTO</text>
<text x="345.3" y="58.9" font-size="15.8" fill="#b9bcc5" >O</text>
<text x="355.5" y="58.9" font-size="15.8" fill="#22ab94" textLength="57.5" lengthAdjust="spacingAndGlyphs" >4.144,89</text>
<text x="422.4" y="58.9" font-size="15.8" fill="#b9bcc5" >H</text>
<text x="432.5" y="58.9" font-size="15.8" fill="#22ab94" textLength="57.5" lengthAdjust="spacingAndGlyphs" >4.344,13</text>
<text x="499.6" y="58.9" font-size="15.8" fill="#b9bcc5" >L</text>
<text x="507.4" y="58.9" font-size="15.8" fill="#22ab94" textLength="57.3" lengthAdjust="spacingAndGlyphs" >4.086,69</text>
<text x="574.4" y="58.9" font-size="15.8" fill="#b9bcc5" >C</text>
<text x="583.8" y="58.9" font-size="15.8" fill="#22ab94" textLength="57.0" lengthAdjust="spacingAndGlyphs" >4.316,43</text>
<text x="650.9" y="58.9" font-size="15.8" fill="#22ab94" textLength="51.9" lengthAdjust="spacingAndGlyphs" >+171,55</text>
<text x="707.8" y="58.9" font-size="15.8" fill="#22ab94" textLength="57.0" lengthAdjust="spacingAndGlyphs" >(+4,14%)</text>
<text x="23.1" y="79.8" font-size="15.8" fill="#b9bcc5" textLength="576.5" lengthAdjust="spacingAndGlyphs" >Vol.: El proveedor de datos no proporciona datos sobre el volumen para este símbolo.</text>
<use href="#frogicon" x="25.6" y="88.6"/>
<text x="48.5" y="100.6" font-size="15.8" fill="#b9bcc5" textLength="148.1" lengthAdjust="spacingAndGlyphs" >TL_Strategy [APIDEVs]</text>
<text x="206.6" y="100.6" font-size="15.8" fill="#4cd964" textLength="57.4" lengthAdjust="spacingAndGlyphs" >3.217,25</text>
<text x="274.0" y="100.6" font-size="15.8" fill="#4cd964" textLength="57.8" lengthAdjust="spacingAndGlyphs" >2.500,85</text>
<text x="341.4" y="100.6" font-size="15.8" fill="#2bd47d" textLength="55.8" lengthAdjust="spacingAndGlyphs" >2.429,26</text>
<text x="408.6" y="100.4" font-size="13.5" fill="#b9bcc5" >∅</text>
<text x="427.7" y="100.4" font-size="13.5" fill="#b9bcc5" >∅</text>
<text x="446.8" y="100.4" font-size="13.5" fill="#b9bcc5" >∅</text>
<text x="466.3" y="100.4" font-size="13.5" fill="#b9bcc5" >∅</text>
<use href="#frogicon" x="25.8" y="674.6"/>
<text x="48.6" y="687.0" font-size="15.8" fill="#b9bcc5" textLength="135.1" lengthAdjust="spacingAndGlyphs" >RSI &amp; ADX [APIDEVS]</text>
<text x="193.8" y="687.0" font-size="15.8" fill="#46924a" textLength="36.8" lengthAdjust="spacingAndGlyphs" >50,00</text>
<text x="239.7" y="687.0" font-size="15.8" fill="#f7525f" textLength="35.9" lengthAdjust="spacingAndGlyphs" >61,62</text>
<text x="285.6" y="687.0" font-size="15.8" fill="#3c93e0" textLength="35.6" lengthAdjust="spacingAndGlyphs" >62,81</text>
<text x="331.9" y="687.0" font-size="15.8" fill="#3c93e0" textLength="35.2" lengthAdjust="spacingAndGlyphs" >60,41</text>
<text x="378.4" y="686.8" font-size="13.5" fill="#b9bcc5" >∅</text>
<text x="397.5" y="686.8" font-size="13.5" fill="#b9bcc5" >∅</text>
<text x="416.7" y="686.8" font-size="13.5" fill="#b9bcc5" >∅</text>
<text x="435.4" y="686.8" font-size="13.5" fill="#b9bcc5" >∅</text>
<g fill="#dadada"><path d="M15.1 817.5 H31 V836 H22.8 V824.9 H15.1 Z"/><circle cx="36.6" cy="821.1" r="3.4"/><path d="M43.9 817.5 H52.8 L45.8 836 H36.9 Z"/></g>
<text x="62.1" y="836.0" font-size="26.8" fill="#dadada" textLength="151.3" lengthAdjust="spacingAndGlyphs" font-weight="bold" >TradingView</text>
</svg></body></html>
